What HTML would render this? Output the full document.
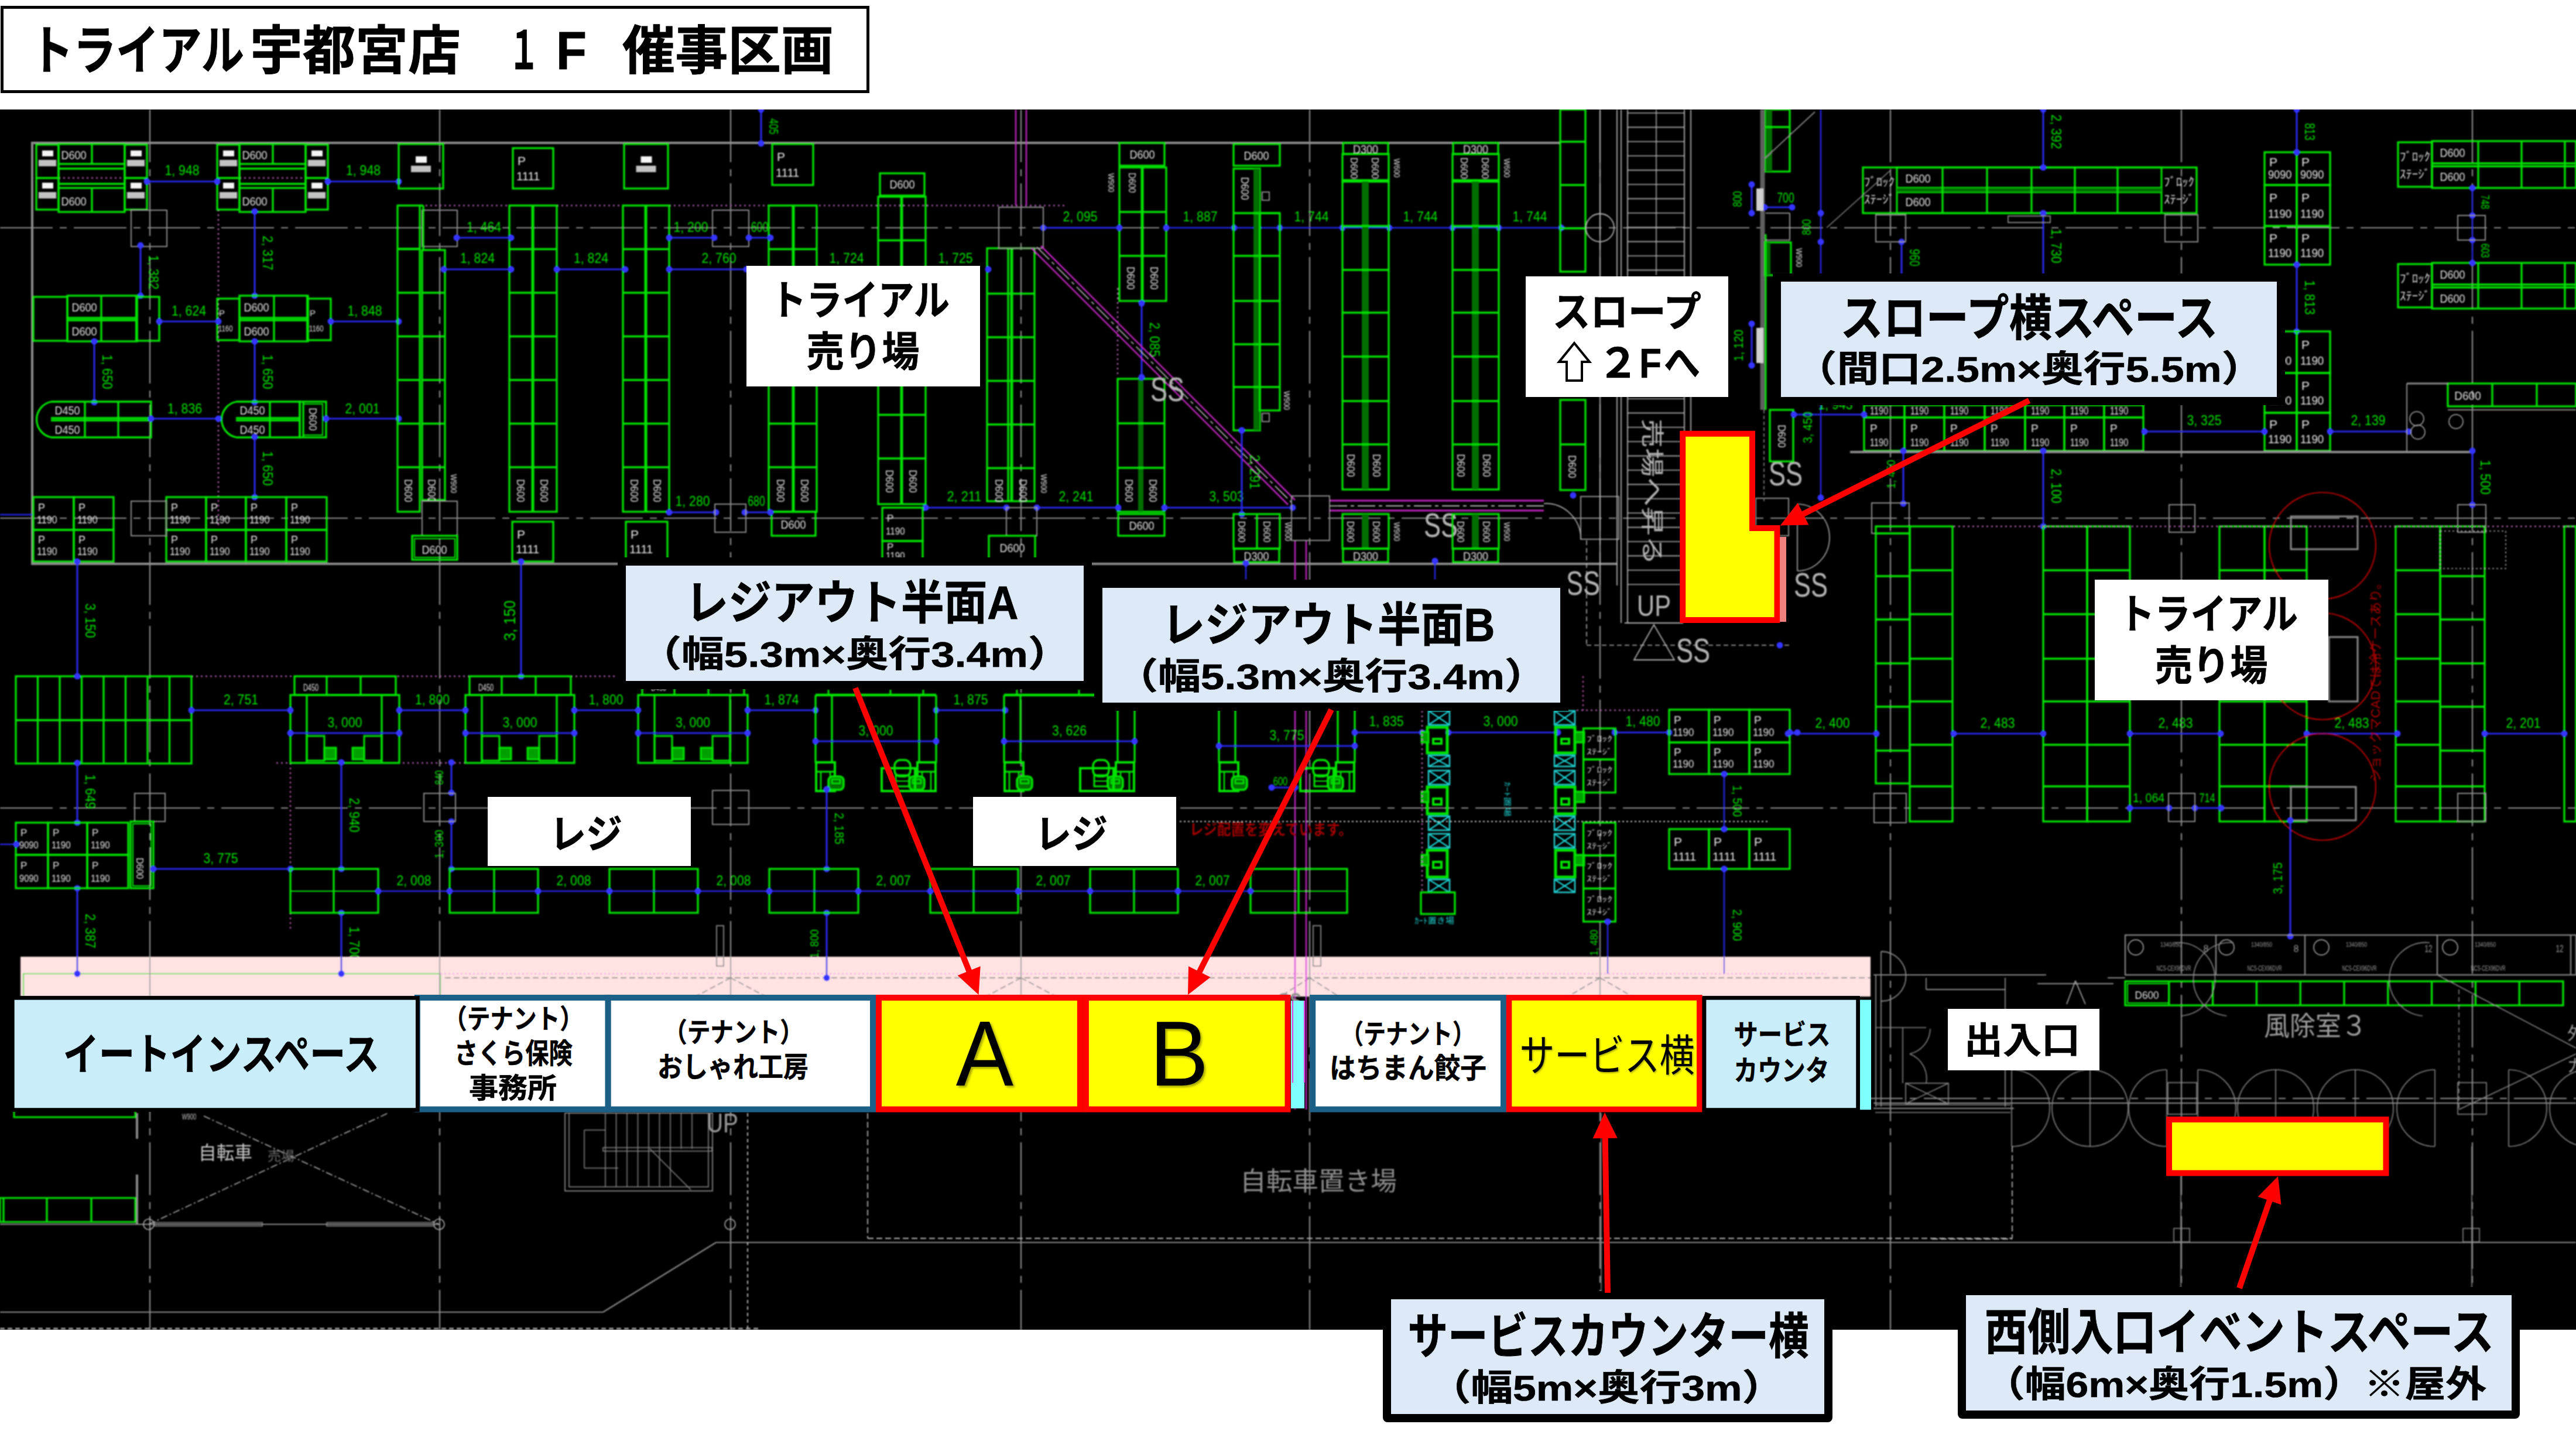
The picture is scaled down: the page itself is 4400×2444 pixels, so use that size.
<!DOCTYPE html>
<html lang="ja"><head><meta charset="utf-8"><title>トライアル宇都宮店 1F 催事区画</title>
<style>html,body{margin:0;padding:0;background:#fff}body{width:4400px;height:2444px;overflow:hidden}svg{display:block}text{font-family:"Liberation Sans","Noto Sans CJK JP",sans-serif}.cad text{font-family:"Liberation Sans","Noto Sans CJK JP",sans-serif}</style></head><body>
<svg width="4400" height="2444" viewBox="0 0 4400 2444">
<defs><filter id="bl" x="-2%" y="-2%" width="104%" height="104%"><feGaussianBlur stdDeviation="1.1"/></filter><clipPath id="cp"><rect x="0" y="187" width="4400" height="2084"/></clipPath></defs>
<rect x="0" y="0" width="4400" height="2444" fill="#fff"/>
<rect x="0" y="187" width="4400" height="2084" fill="#000"/>
<g clip-path="url(#cp)"><g class="cad" filter="url(#bl)" stroke-linecap="butt">
<line x1="256" y1="187" x2="256" y2="2271" stroke="#8c8c8c" stroke-width="2.2" stroke-dasharray="90 12 12 12"/>
<line x1="751" y1="187" x2="751" y2="2271" stroke="#8c8c8c" stroke-width="2.2" stroke-dasharray="90 12 12 12"/>
<line x1="1248" y1="187" x2="1248" y2="2271" stroke="#8c8c8c" stroke-width="2.2" stroke-dasharray="90 12 12 12"/>
<line x1="1744" y1="187" x2="1744" y2="2271" stroke="#8c8c8c" stroke-width="2.2" stroke-dasharray="90 12 12 12"/>
<line x1="2237" y1="187" x2="2237" y2="2271" stroke="#8c8c8c" stroke-width="2.2" stroke-dasharray="90 12 12 12"/>
<line x1="2733" y1="187" x2="2733" y2="2271" stroke="#8c8c8c" stroke-width="2.2" stroke-dasharray="90 12 12 12"/>
<line x1="3229" y1="187" x2="3229" y2="2271" stroke="#8c8c8c" stroke-width="2.2" stroke-dasharray="90 12 12 12"/>
<line x1="3726" y1="187" x2="3726" y2="2271" stroke="#8c8c8c" stroke-width="2.2" stroke-dasharray="90 12 12 12"/>
<line x1="4223" y1="187" x2="4223" y2="2271" stroke="#8c8c8c" stroke-width="2.2" stroke-dasharray="90 12 12 12"/>
<line x1="0" y1="389" x2="4400" y2="389" stroke="#8c8c8c" stroke-width="2.2" stroke-dasharray="90 12 12 12"/>
<line x1="0" y1="885" x2="4400" y2="885" stroke="#8c8c8c" stroke-width="2.2" stroke-dasharray="90 12 12 12"/>
<line x1="0" y1="1380" x2="4400" y2="1380" stroke="#8c8c8c" stroke-width="2.2" stroke-dasharray="90 12 12 12"/>
<line x1="3160" y1="1876" x2="4400" y2="1876" stroke="#8c8c8c" stroke-width="2" stroke-dasharray="90 12 12 12"/>
<line x1="55" y1="244" x2="2665" y2="244" stroke="#8c8c8c" stroke-width="4"/>
<line x1="55" y1="242" x2="55" y2="965" stroke="#8c8c8c" stroke-width="4"/>
<line x1="55" y1="963" x2="2762" y2="963" stroke="#8c8c8c" stroke-width="4"/>
<line x1="679" y1="351" x2="1819" y2="351" stroke="#a858a8" stroke-width="2.5" stroke-dasharray="3 5"/>
<line x1="373" y1="358" x2="373" y2="900" stroke="#a858a8" stroke-width="2.5" stroke-dasharray="3 5"/>
<line x1="100" y1="304" x2="213" y2="304" stroke="#a858a8" stroke-width="2.5" stroke-dasharray="3 5"/>
<line x1="409" y1="304" x2="522" y2="304" stroke="#a858a8" stroke-width="2.5" stroke-dasharray="3 5"/>
<line x1="327" y1="1155" x2="1055" y2="1155" stroke="#a858a8" stroke-width="2.5" stroke-dasharray="3 5"/>
<line x1="472" y1="1303" x2="795" y2="1303" stroke="#a858a8" stroke-width="2.5" stroke-dasharray="3 5"/>
<line x1="496" y1="1303" x2="496" y2="1589" stroke="#a858a8" stroke-width="2.5" stroke-dasharray="3 5"/>
<line x1="1909" y1="492" x2="1909" y2="644" stroke="#a858a8" stroke-width="2.5" stroke-dasharray="3 5"/>
<rect x="62" y="247" width="38" height="111" fill="none" stroke="#00e400" stroke-width="3.3"/>
<line x1="62" y1="304" x2="100" y2="304" stroke="#00e400" stroke-width="3.3"/>
<rect x="100" y="246" width="113" height="34" fill="none" stroke="#00e400" stroke-width="3.3"/>
<rect x="100" y="321" width="113" height="41" fill="none" stroke="#00e400" stroke-width="3.3"/>
<line x1="100" y1="288" x2="213" y2="288" stroke="#00e400" stroke-width="3.3"/>
<line x1="100" y1="314" x2="213" y2="314" stroke="#00e400" stroke-width="3.3"/>
<line x1="100" y1="280" x2="100" y2="321" stroke="#00e400" stroke-width="3.3"/>
<line x1="213" y1="280" x2="213" y2="321" stroke="#00e400" stroke-width="3.3"/>
<line x1="157" y1="246" x2="157" y2="280" stroke="#00e400" stroke-width="3.3"/>
<line x1="157" y1="321" x2="157" y2="362" stroke="#00e400" stroke-width="3.3"/>
<rect x="213" y="247" width="38" height="111" fill="none" stroke="#00e400" stroke-width="3.3"/>
<line x1="213" y1="304" x2="251" y2="304" stroke="#00e400" stroke-width="3.3"/>
<text x="126" y="272" font-size="20" fill="#e0e0e0" text-anchor="middle" textLength="43.2" lengthAdjust="spacingAndGlyphs">D600</text>
<text x="126" y="351" font-size="20" fill="#e0e0e0" text-anchor="middle" textLength="43.2" lengthAdjust="spacingAndGlyphs">D600</text>
<rect x="72" y="257" width="19" height="10" fill="#f4f4f4" stroke="none" stroke-width="0"/>
<rect x="66" y="273" width="30" height="11" fill="#e4e4e4" stroke="none" stroke-width="0" opacity=".85"/>
<rect x="72" y="312" width="19" height="10" fill="#f4f4f4" stroke="none" stroke-width="0"/>
<rect x="66" y="328" width="30" height="11" fill="#e4e4e4" stroke="none" stroke-width="0" opacity=".85"/>
<rect x="223" y="257" width="19" height="10" fill="#f4f4f4" stroke="none" stroke-width="0"/>
<rect x="217" y="273" width="30" height="11" fill="#e4e4e4" stroke="none" stroke-width="0" opacity=".85"/>
<rect x="223" y="312" width="19" height="10" fill="#f4f4f4" stroke="none" stroke-width="0"/>
<rect x="217" y="328" width="30" height="11" fill="#e4e4e4" stroke="none" stroke-width="0" opacity=".85"/>
<rect x="371" y="247" width="38" height="111" fill="none" stroke="#00e400" stroke-width="3.3"/>
<line x1="371" y1="304" x2="409" y2="304" stroke="#00e400" stroke-width="3.3"/>
<rect x="409" y="246" width="113" height="34" fill="none" stroke="#00e400" stroke-width="3.3"/>
<rect x="409" y="321" width="113" height="41" fill="none" stroke="#00e400" stroke-width="3.3"/>
<line x1="409" y1="288" x2="522" y2="288" stroke="#00e400" stroke-width="3.3"/>
<line x1="409" y1="314" x2="522" y2="314" stroke="#00e400" stroke-width="3.3"/>
<line x1="409" y1="280" x2="409" y2="321" stroke="#00e400" stroke-width="3.3"/>
<line x1="522" y1="280" x2="522" y2="321" stroke="#00e400" stroke-width="3.3"/>
<line x1="466" y1="246" x2="466" y2="280" stroke="#00e400" stroke-width="3.3"/>
<line x1="466" y1="321" x2="466" y2="362" stroke="#00e400" stroke-width="3.3"/>
<rect x="522" y="247" width="38" height="111" fill="none" stroke="#00e400" stroke-width="3.3"/>
<line x1="522" y1="304" x2="560" y2="304" stroke="#00e400" stroke-width="3.3"/>
<text x="435" y="272" font-size="20" fill="#e0e0e0" text-anchor="middle" textLength="43.2" lengthAdjust="spacingAndGlyphs">D600</text>
<text x="435" y="351" font-size="20" fill="#e0e0e0" text-anchor="middle" textLength="43.2" lengthAdjust="spacingAndGlyphs">D600</text>
<rect x="381" y="257" width="19" height="10" fill="#f4f4f4" stroke="none" stroke-width="0"/>
<rect x="375" y="273" width="30" height="11" fill="#e4e4e4" stroke="none" stroke-width="0" opacity=".85"/>
<rect x="381" y="312" width="19" height="10" fill="#f4f4f4" stroke="none" stroke-width="0"/>
<rect x="375" y="328" width="30" height="11" fill="#e4e4e4" stroke="none" stroke-width="0" opacity=".85"/>
<rect x="532" y="257" width="19" height="10" fill="#f4f4f4" stroke="none" stroke-width="0"/>
<rect x="526" y="273" width="30" height="11" fill="#e4e4e4" stroke="none" stroke-width="0" opacity=".85"/>
<rect x="532" y="312" width="19" height="10" fill="#f4f4f4" stroke="none" stroke-width="0"/>
<rect x="526" y="328" width="30" height="11" fill="#e4e4e4" stroke="none" stroke-width="0" opacity=".85"/>
<line x1="251" y1="310" x2="371" y2="310" stroke="#2626e6" stroke-width="3.2"/>
<circle cx="251" cy="310" r="5.5" fill="#3434ff"/>
<circle cx="371" cy="310" r="5.5" fill="#3434ff"/>
<text x="311" y="299" font-size="24" fill="#00e400" text-anchor="middle" textLength="59" lengthAdjust="spacingAndGlyphs">1, 948</text>
<line x1="560" y1="310" x2="681" y2="310" stroke="#2626e6" stroke-width="3.2"/>
<circle cx="560" cy="310" r="5.5" fill="#3434ff"/>
<circle cx="681" cy="310" r="5.5" fill="#3434ff"/>
<text x="620.5" y="299" font-size="24" fill="#00e400" text-anchor="middle" textLength="59" lengthAdjust="spacingAndGlyphs">1, 948</text>
<rect x="224" y="359" width="61" height="62" fill="none" stroke="#8c8c8c" stroke-width="2"/>
<rect x="721" y="359" width="60" height="62" fill="none" stroke="#8c8c8c" stroke-width="2"/>
<rect x="1217" y="359" width="62" height="62" fill="none" stroke="#8c8c8c" stroke-width="2"/>
<line x1="240" y1="419" x2="240" y2="505" stroke="#2626e6" stroke-width="3.2"/>
<circle cx="240" cy="419" r="5.5" fill="#3434ff"/>
<circle cx="240" cy="505" r="5.5" fill="#3434ff"/>
<text x="254" y="465" font-size="24" fill="#00e400" text-anchor="middle" transform="rotate(90 254 465)" textLength="59" lengthAdjust="spacingAndGlyphs">1, 382</text>
<line x1="435" y1="361" x2="435" y2="505" stroke="#2626e6" stroke-width="3.2"/>
<circle cx="435" cy="361" r="5.5" fill="#3434ff"/>
<circle cx="435" cy="505" r="5.5" fill="#3434ff"/>
<text x="449" y="432" font-size="24" fill="#00e400" text-anchor="middle" transform="rotate(90 449 432)" textLength="59" lengthAdjust="spacingAndGlyphs">2, 317</text>
<rect x="681" y="246" width="76" height="76" fill="none" stroke="#00e400" stroke-width="3.3"/>
<rect x="710" y="267" width="19" height="11" fill="#f4f4f4" stroke="none" stroke-width="0"/>
<rect x="702" y="283" width="34" height="11" fill="#e4e4e4" stroke="none" stroke-width="0" opacity=".85"/>
<rect x="1066" y="246" width="75" height="76" fill="none" stroke="#00e400" stroke-width="3.3"/>
<rect x="1094.5" y="267" width="19" height="11" fill="#f4f4f4" stroke="none" stroke-width="0"/>
<rect x="1086.5" y="283" width="34" height="11" fill="#e4e4e4" stroke="none" stroke-width="0" opacity=".85"/>
<rect x="876" y="253" width="69" height="69" fill="none" stroke="#00e400" stroke-width="3.3"/>
<text x="884" y="282" font-size="21" fill="#e8e8e8" text-anchor="start">P</text>
<text x="882" y="308.2" font-size="21" fill="#e8e8e8" text-anchor="start" textLength="40.3" lengthAdjust="spacingAndGlyphs">1111</text>
<rect x="1319" y="246" width="70" height="70" fill="none" stroke="#00e400" stroke-width="3.3"/>
<text x="1327" y="275.4" font-size="21" fill="#e8e8e8" text-anchor="start">P</text>
<text x="1325" y="302" font-size="21" fill="#e8e8e8" text-anchor="start" textLength="40.3" lengthAdjust="spacingAndGlyphs">1111</text>
<line x1="1300" y1="187" x2="1300" y2="245" stroke="#2626e6" stroke-width="3.2"/>
<circle cx="1300" cy="187" r="5.5" fill="#3434ff"/>
<circle cx="1300" cy="245" r="5.5" fill="#3434ff"/>
<text x="1314" y="216" font-size="22" fill="#00e400" text-anchor="middle" transform="rotate(90 1314 216)" textLength="27.1" lengthAdjust="spacingAndGlyphs">405</text>
<rect x="57" y="507" width="58" height="75" fill="none" stroke="#00e400" stroke-width="3.3"/>
<rect x="115" y="505" width="119" height="78" fill="none" stroke="#00e400" stroke-width="3.3"/>
<line x1="115" y1="543" x2="234" y2="543" stroke="#00e400" stroke-width="3.3"/>
<line x1="115" y1="547" x2="234" y2="547" stroke="#00e400" stroke-width="3.3"/>
<line x1="173" y1="505" x2="173" y2="583" stroke="#00e400" stroke-width="3.3"/>
<rect x="234" y="507" width="38" height="75" fill="none" stroke="#00e400" stroke-width="3.3"/>
<line x1="233" y1="505" x2="233" y2="583" stroke="#00e400" stroke-width="4"/>
<text x="144" y="532" font-size="20" fill="#e0e0e0" text-anchor="middle" textLength="43.2" lengthAdjust="spacingAndGlyphs">D600</text>
<text x="144" y="573" font-size="20" fill="#e0e0e0" text-anchor="middle" textLength="43.2" lengthAdjust="spacingAndGlyphs">D600</text>
<rect x="371" y="510" width="38" height="71" fill="none" stroke="#00e400" stroke-width="3.3"/>
<rect x="526" y="510" width="39" height="71" fill="none" stroke="#00e400" stroke-width="3.3"/>
<rect x="409" y="505" width="117" height="78" fill="none" stroke="#00e400" stroke-width="3.3"/>
<line x1="409" y1="543" x2="526" y2="543" stroke="#00e400" stroke-width="3.3"/>
<line x1="409" y1="547" x2="526" y2="547" stroke="#00e400" stroke-width="3.3"/>
<line x1="468" y1="505" x2="468" y2="583" stroke="#00e400" stroke-width="3.3"/>
<line x1="525" y1="505" x2="525" y2="583" stroke="#00e400" stroke-width="4"/>
<text x="438" y="532" font-size="20" fill="#e0e0e0" text-anchor="middle" textLength="43.2" lengthAdjust="spacingAndGlyphs">D600</text>
<text x="438" y="573" font-size="20" fill="#e0e0e0" text-anchor="middle" textLength="43.2" lengthAdjust="spacingAndGlyphs">D600</text>
<text x="374" y="540" font-size="15" fill="#e0e0e0" text-anchor="start">P</text>
<text x="373" y="566" font-size="15" fill="#e0e0e0" text-anchor="start" textLength="24.6" lengthAdjust="spacingAndGlyphs">1160</text>
<text x="529" y="540" font-size="15" fill="#e0e0e0" text-anchor="start">P</text>
<text x="528" y="566" font-size="15" fill="#e0e0e0" text-anchor="start" textLength="24.6" lengthAdjust="spacingAndGlyphs">1160</text>
<line x1="272" y1="549" x2="373" y2="549" stroke="#2626e6" stroke-width="3.2"/>
<circle cx="272" cy="549" r="5.5" fill="#3434ff"/>
<circle cx="373" cy="549" r="5.5" fill="#3434ff"/>
<text x="322.5" y="539" font-size="24" fill="#00e400" text-anchor="middle" textLength="59" lengthAdjust="spacingAndGlyphs">1, 624</text>
<line x1="565" y1="549" x2="681" y2="549" stroke="#2626e6" stroke-width="3.2"/>
<circle cx="565" cy="549" r="5.5" fill="#3434ff"/>
<circle cx="681" cy="549" r="5.5" fill="#3434ff"/>
<text x="623" y="539" font-size="24" fill="#00e400" text-anchor="middle" textLength="59" lengthAdjust="spacingAndGlyphs">1, 848</text>
<line x1="161" y1="583" x2="161" y2="687" stroke="#2626e6" stroke-width="3.2"/>
<circle cx="161" cy="583" r="5.5" fill="#3434ff"/>
<circle cx="161" cy="687" r="5.5" fill="#3434ff"/>
<text x="175" y="635" font-size="24" fill="#00e400" text-anchor="middle" transform="rotate(90 175 635)" textLength="59" lengthAdjust="spacingAndGlyphs">1, 650</text>
<line x1="435" y1="583" x2="435" y2="687" stroke="#2626e6" stroke-width="3.2"/>
<circle cx="435" cy="583" r="5.5" fill="#3434ff"/>
<circle cx="435" cy="687" r="5.5" fill="#3434ff"/>
<text x="449" y="635" font-size="24" fill="#00e400" text-anchor="middle" transform="rotate(90 449 635)" textLength="59" lengthAdjust="spacingAndGlyphs">1, 650</text>
<path d="M258,686 L88,686 A31,31 0 0 0 88,747 L258,747 Z" fill="none" stroke="#00e400" stroke-width="3.3"/>
<line x1="87" y1="714" x2="258" y2="714" stroke="#00e400" stroke-width="3.3"/>
<line x1="87" y1="718" x2="258" y2="718" stroke="#00e400" stroke-width="3.3"/>
<line x1="145" y1="686" x2="145" y2="747" stroke="#00e400" stroke-width="3.3"/>
<line x1="202" y1="686" x2="202" y2="747" stroke="#00e400" stroke-width="3.3"/>
<text x="115" y="708" font-size="20" fill="#e0e0e0" text-anchor="middle" textLength="43.2" lengthAdjust="spacingAndGlyphs">D450</text>
<text x="115" y="741" font-size="20" fill="#e0e0e0" text-anchor="middle" textLength="43.2" lengthAdjust="spacingAndGlyphs">D450</text>
<path d="M512,686 L404,686 A31,31 0 0 0 404,747 L512,747 Z" fill="none" stroke="#00e400" stroke-width="3.3"/>
<line x1="403" y1="714" x2="512" y2="714" stroke="#00e400" stroke-width="3.3"/>
<line x1="403" y1="718" x2="512" y2="718" stroke="#00e400" stroke-width="3.3"/>
<line x1="461" y1="686" x2="461" y2="747" stroke="#00e400" stroke-width="3.3"/>
<line x1="518" y1="686" x2="518" y2="747" stroke="#00e400" stroke-width="3.3"/>
<text x="431" y="708" font-size="20" fill="#e0e0e0" text-anchor="middle" textLength="43.2" lengthAdjust="spacingAndGlyphs">D450</text>
<text x="431" y="741" font-size="20" fill="#e0e0e0" text-anchor="middle" textLength="43.2" lengthAdjust="spacingAndGlyphs">D450</text>
<rect x="512" y="686" width="45" height="61" fill="none" stroke="#00e400" stroke-width="3.3"/>
<rect x="518" y="690" width="33" height="53" fill="none" stroke="#00e400" stroke-width="2"/>
<text x="528" y="716" font-size="18" fill="#e0e0e0" text-anchor="middle" transform="rotate(90 528 716)" textLength="38.9" lengthAdjust="spacingAndGlyphs">D600</text>
<line x1="258" y1="715" x2="373" y2="715" stroke="#2626e6" stroke-width="3.2"/>
<circle cx="258" cy="715" r="5.5" fill="#3434ff"/>
<circle cx="373" cy="715" r="5.5" fill="#3434ff"/>
<text x="315.5" y="706" font-size="24" fill="#00e400" text-anchor="middle" textLength="59" lengthAdjust="spacingAndGlyphs">1, 836</text>
<line x1="557" y1="715" x2="681" y2="715" stroke="#2626e6" stroke-width="3.2"/>
<circle cx="557" cy="715" r="5.5" fill="#3434ff"/>
<circle cx="681" cy="715" r="5.5" fill="#3434ff"/>
<text x="619" y="706" font-size="24" fill="#00e400" text-anchor="middle" textLength="59" lengthAdjust="spacingAndGlyphs">2, 001</text>
<line x1="435" y1="746" x2="435" y2="849" stroke="#2626e6" stroke-width="3.2"/>
<circle cx="435" cy="746" r="5.5" fill="#3434ff"/>
<circle cx="435" cy="849" r="5.5" fill="#3434ff"/>
<text x="449" y="800" font-size="24" fill="#00e400" text-anchor="middle" transform="rotate(90 449 800)" textLength="59" lengthAdjust="spacingAndGlyphs">1, 650</text>
<rect x="57" y="849" width="69" height="56" fill="none" stroke="#00e400" stroke-width="3.3"/>
<text x="65" y="872.5" font-size="18" fill="#e8e8e8" text-anchor="start">P</text>
<text x="63" y="893.8" font-size="18" fill="#e8e8e8" text-anchor="start" textLength="34.6" lengthAdjust="spacingAndGlyphs">1190</text>
<rect x="57" y="905" width="69" height="54" fill="none" stroke="#00e400" stroke-width="3.3"/>
<text x="65" y="927.7" font-size="18" fill="#e8e8e8" text-anchor="start">P</text>
<text x="63" y="948.2" font-size="18" fill="#e8e8e8" text-anchor="start" textLength="34.6" lengthAdjust="spacingAndGlyphs">1190</text>
<rect x="126" y="849" width="68" height="56" fill="none" stroke="#00e400" stroke-width="3.3"/>
<text x="134" y="872.5" font-size="18" fill="#e8e8e8" text-anchor="start">P</text>
<text x="132" y="893.8" font-size="18" fill="#e8e8e8" text-anchor="start" textLength="34.6" lengthAdjust="spacingAndGlyphs">1190</text>
<rect x="126" y="905" width="68" height="54" fill="none" stroke="#00e400" stroke-width="3.3"/>
<text x="134" y="927.7" font-size="18" fill="#e8e8e8" text-anchor="start">P</text>
<text x="132" y="948.2" font-size="18" fill="#e8e8e8" text-anchor="start" textLength="34.6" lengthAdjust="spacingAndGlyphs">1190</text>
<rect x="284" y="849" width="68" height="56" fill="none" stroke="#00e400" stroke-width="3.3"/>
<text x="292" y="872.5" font-size="18" fill="#e8e8e8" text-anchor="start">P</text>
<text x="290" y="893.8" font-size="18" fill="#e8e8e8" text-anchor="start" textLength="34.6" lengthAdjust="spacingAndGlyphs">1190</text>
<rect x="284" y="905" width="68" height="54" fill="none" stroke="#00e400" stroke-width="3.3"/>
<text x="292" y="927.7" font-size="18" fill="#e8e8e8" text-anchor="start">P</text>
<text x="290" y="948.2" font-size="18" fill="#e8e8e8" text-anchor="start" textLength="34.6" lengthAdjust="spacingAndGlyphs">1190</text>
<rect x="352" y="849" width="68" height="56" fill="none" stroke="#00e400" stroke-width="3.3"/>
<text x="360" y="872.5" font-size="18" fill="#e8e8e8" text-anchor="start">P</text>
<text x="358" y="893.8" font-size="18" fill="#e8e8e8" text-anchor="start" textLength="34.6" lengthAdjust="spacingAndGlyphs">1190</text>
<rect x="352" y="905" width="68" height="54" fill="none" stroke="#00e400" stroke-width="3.3"/>
<text x="360" y="927.7" font-size="18" fill="#e8e8e8" text-anchor="start">P</text>
<text x="358" y="948.2" font-size="18" fill="#e8e8e8" text-anchor="start" textLength="34.6" lengthAdjust="spacingAndGlyphs">1190</text>
<rect x="420" y="849" width="69" height="56" fill="none" stroke="#00e400" stroke-width="3.3"/>
<text x="428" y="872.5" font-size="18" fill="#e8e8e8" text-anchor="start">P</text>
<text x="426" y="893.8" font-size="18" fill="#e8e8e8" text-anchor="start" textLength="34.6" lengthAdjust="spacingAndGlyphs">1190</text>
<rect x="420" y="905" width="69" height="54" fill="none" stroke="#00e400" stroke-width="3.3"/>
<text x="428" y="927.7" font-size="18" fill="#e8e8e8" text-anchor="start">P</text>
<text x="426" y="948.2" font-size="18" fill="#e8e8e8" text-anchor="start" textLength="34.6" lengthAdjust="spacingAndGlyphs">1190</text>
<rect x="489" y="849" width="69" height="56" fill="none" stroke="#00e400" stroke-width="3.3"/>
<text x="497" y="872.5" font-size="18" fill="#e8e8e8" text-anchor="start">P</text>
<text x="495" y="893.8" font-size="18" fill="#e8e8e8" text-anchor="start" textLength="34.6" lengthAdjust="spacingAndGlyphs">1190</text>
<rect x="489" y="905" width="69" height="54" fill="none" stroke="#00e400" stroke-width="3.3"/>
<text x="497" y="927.7" font-size="18" fill="#e8e8e8" text-anchor="start">P</text>
<text x="495" y="948.2" font-size="18" fill="#e8e8e8" text-anchor="start" textLength="34.6" lengthAdjust="spacingAndGlyphs">1190</text>
<rect x="224" y="856" width="60" height="59" fill="none" stroke="#8c8c8c" stroke-width="2"/>
<line x1="0" y1="879" x2="55" y2="879" stroke="#2626e6" stroke-width="2.5"/>
<rect x="679" y="351" width="38" height="523" fill="none" stroke="#00e400" stroke-width="3.3"/>
<line x1="679" y1="425" x2="717" y2="425" stroke="#00e400" stroke-width="3.3"/>
<line x1="679" y1="425.5" x2="717" y2="425.5" stroke="#00e400" stroke-width="3.3"/>
<line x1="679" y1="500" x2="717" y2="500" stroke="#00e400" stroke-width="3.3"/>
<line x1="679" y1="574.5" x2="717" y2="574.5" stroke="#00e400" stroke-width="3.3"/>
<line x1="679" y1="649" x2="717" y2="649" stroke="#00e400" stroke-width="3.3"/>
<line x1="679" y1="723.5" x2="717" y2="723.5" stroke="#00e400" stroke-width="3.3"/>
<line x1="679" y1="798" x2="717" y2="798" stroke="#00e400" stroke-width="3.3"/>
<rect x="721" y="427" width="39" height="427" fill="none" stroke="#00e400" stroke-width="3.3"/>
<line x1="721" y1="500" x2="760" y2="500" stroke="#00e400" stroke-width="3.3"/>
<line x1="721" y1="574.5" x2="760" y2="574.5" stroke="#00e400" stroke-width="3.3"/>
<line x1="721" y1="649" x2="760" y2="649" stroke="#00e400" stroke-width="3.3"/>
<line x1="721" y1="723.5" x2="760" y2="723.5" stroke="#00e400" stroke-width="3.3"/>
<line x1="721" y1="798" x2="760" y2="798" stroke="#00e400" stroke-width="3.3"/>
<line x1="717" y1="351" x2="723" y2="351" stroke="#00e400" stroke-width="3.3"/>
<line x1="723" y1="351" x2="723" y2="427" stroke="#00e400" stroke-width="3.3"/>
<rect x="870" y="351" width="81" height="523" fill="none" stroke="#00e400" stroke-width="3.3"/>
<line x1="910" y1="351" x2="910" y2="874" stroke="#00e400" stroke-width="5"/>
<line x1="870" y1="425.5" x2="951" y2="425.5" stroke="#00e400" stroke-width="3.3"/>
<line x1="870" y1="500" x2="951" y2="500" stroke="#00e400" stroke-width="3.3"/>
<line x1="870" y1="574.5" x2="951" y2="574.5" stroke="#00e400" stroke-width="3.3"/>
<line x1="870" y1="649" x2="951" y2="649" stroke="#00e400" stroke-width="3.3"/>
<line x1="870" y1="723.5" x2="951" y2="723.5" stroke="#00e400" stroke-width="3.3"/>
<line x1="870" y1="798" x2="951" y2="798" stroke="#00e400" stroke-width="3.3"/>
<rect x="1064" y="351" width="79" height="523" fill="none" stroke="#00e400" stroke-width="3.3"/>
<line x1="1103" y1="351" x2="1103" y2="874" stroke="#00e400" stroke-width="5"/>
<line x1="1064" y1="425.5" x2="1143" y2="425.5" stroke="#00e400" stroke-width="3.3"/>
<line x1="1064" y1="500" x2="1143" y2="500" stroke="#00e400" stroke-width="3.3"/>
<line x1="1064" y1="574.5" x2="1143" y2="574.5" stroke="#00e400" stroke-width="3.3"/>
<line x1="1064" y1="649" x2="1143" y2="649" stroke="#00e400" stroke-width="3.3"/>
<line x1="1064" y1="723.5" x2="1143" y2="723.5" stroke="#00e400" stroke-width="3.3"/>
<line x1="1064" y1="798" x2="1143" y2="798" stroke="#00e400" stroke-width="3.3"/>
<rect x="1313" y="351" width="82" height="523" fill="none" stroke="#00e400" stroke-width="3.3"/>
<line x1="1355" y1="351" x2="1355" y2="874" stroke="#00e400" stroke-width="5"/>
<line x1="1313" y1="425.5" x2="1395" y2="425.5" stroke="#00e400" stroke-width="3.3"/>
<line x1="1313" y1="500" x2="1395" y2="500" stroke="#00e400" stroke-width="3.3"/>
<line x1="1313" y1="574.5" x2="1395" y2="574.5" stroke="#00e400" stroke-width="3.3"/>
<line x1="1313" y1="649" x2="1395" y2="649" stroke="#00e400" stroke-width="3.3"/>
<line x1="1313" y1="723.5" x2="1395" y2="723.5" stroke="#00e400" stroke-width="3.3"/>
<line x1="1313" y1="798" x2="1395" y2="798" stroke="#00e400" stroke-width="3.3"/>
<rect x="1318" y="874" width="75" height="41" fill="none" stroke="#00e400" stroke-width="3.3"/>
<text x="1355" y="903" font-size="20" fill="#e0e0e0" text-anchor="middle" textLength="43.2" lengthAdjust="spacingAndGlyphs">D600</text>
<rect x="1503" y="296" width="76" height="38" fill="none" stroke="#00e400" stroke-width="3.3"/>
<text x="1541" y="322" font-size="20" fill="#e0e0e0" text-anchor="middle" textLength="43.2" lengthAdjust="spacingAndGlyphs">D600</text>
<rect x="1500" y="336" width="81" height="525" fill="none" stroke="#00e400" stroke-width="3.3"/>
<line x1="1540" y1="336" x2="1540" y2="861" stroke="#00e400" stroke-width="5"/>
<line x1="1500" y1="410.5" x2="1581" y2="410.5" stroke="#00e400" stroke-width="3.3"/>
<line x1="1500" y1="485" x2="1581" y2="485" stroke="#00e400" stroke-width="3.3"/>
<line x1="1500" y1="559.5" x2="1581" y2="559.5" stroke="#00e400" stroke-width="3.3"/>
<line x1="1500" y1="634" x2="1581" y2="634" stroke="#00e400" stroke-width="3.3"/>
<line x1="1500" y1="708.5" x2="1581" y2="708.5" stroke="#00e400" stroke-width="3.3"/>
<line x1="1500" y1="783" x2="1581" y2="783" stroke="#00e400" stroke-width="3.3"/>
<rect x="1686" y="424" width="81" height="432" fill="none" stroke="#00e400" stroke-width="3.3"/>
<line x1="1728" y1="424" x2="1728" y2="856" stroke="#00e400" stroke-width="5"/>
<line x1="1686" y1="501.5" x2="1767" y2="501.5" stroke="#00e400" stroke-width="3.3"/>
<line x1="1686" y1="576" x2="1767" y2="576" stroke="#00e400" stroke-width="3.3"/>
<line x1="1686" y1="650.5" x2="1767" y2="650.5" stroke="#00e400" stroke-width="3.3"/>
<line x1="1686" y1="725" x2="1767" y2="725" stroke="#00e400" stroke-width="3.3"/>
<line x1="1686" y1="799.5" x2="1767" y2="799.5" stroke="#00e400" stroke-width="3.3"/>
<line x1="1722" y1="424" x2="1722" y2="856" stroke="#00e400" stroke-width="3.3"/>
<rect x="1912" y="244" width="77" height="39" fill="none" stroke="#00e400" stroke-width="3.3"/>
<text x="1951" y="271" font-size="20" fill="#e0e0e0" text-anchor="middle" textLength="43.2" lengthAdjust="spacingAndGlyphs">D600</text>
<rect x="1912" y="286" width="80" height="228" fill="none" stroke="#00e400" stroke-width="3.3"/>
<line x1="1951" y1="286" x2="1951" y2="514" stroke="#00e400" stroke-width="5"/>
<line x1="1912" y1="362" x2="1992" y2="362" stroke="#00e400" stroke-width="3.3"/>
<line x1="1912" y1="437" x2="1992" y2="437" stroke="#00e400" stroke-width="3.3"/>
<rect x="1909" y="647" width="80" height="227" fill="none" stroke="#00e400" stroke-width="3.3"/>
<rect x="1944" y="647" width="9" height="227" fill="#006e00" stroke="none" stroke-width="0"/>
<line x1="1909" y1="723" x2="1989" y2="723" stroke="#00e400" stroke-width="3.3"/>
<line x1="1909" y1="799" x2="1989" y2="799" stroke="#00e400" stroke-width="3.3"/>
<rect x="1910" y="878" width="79" height="37" fill="none" stroke="#00e400" stroke-width="3.3"/>
<text x="1950" y="905" font-size="20" fill="#e0e0e0" text-anchor="middle" textLength="43.2" lengthAdjust="spacingAndGlyphs">D600</text>
<text x="691" y="838" font-size="18" fill="#e0e0e0" text-anchor="middle" transform="rotate(90 691 838)" textLength="38.9" lengthAdjust="spacingAndGlyphs">D600</text>
<text x="731" y="838" font-size="18" fill="#e0e0e0" text-anchor="middle" transform="rotate(90 731 838)" textLength="38.9" lengthAdjust="spacingAndGlyphs">D600</text>
<text x="883" y="838" font-size="18" fill="#e0e0e0" text-anchor="middle" transform="rotate(90 883 838)" textLength="38.9" lengthAdjust="spacingAndGlyphs">D600</text>
<text x="923" y="838" font-size="18" fill="#e0e0e0" text-anchor="middle" transform="rotate(90 923 838)" textLength="38.9" lengthAdjust="spacingAndGlyphs">D600</text>
<text x="1077" y="838" font-size="18" fill="#e0e0e0" text-anchor="middle" transform="rotate(90 1077 838)" textLength="38.9" lengthAdjust="spacingAndGlyphs">D600</text>
<text x="1116" y="838" font-size="18" fill="#e0e0e0" text-anchor="middle" transform="rotate(90 1116 838)" textLength="38.9" lengthAdjust="spacingAndGlyphs">D600</text>
<text x="1327" y="838" font-size="18" fill="#e0e0e0" text-anchor="middle" transform="rotate(90 1327 838)" textLength="38.9" lengthAdjust="spacingAndGlyphs">D600</text>
<text x="1368" y="838" font-size="18" fill="#e0e0e0" text-anchor="middle" transform="rotate(90 1368 838)" textLength="38.9" lengthAdjust="spacingAndGlyphs">D600</text>
<text x="1700" y="838" font-size="18" fill="#e0e0e0" text-anchor="middle" transform="rotate(90 1700 838)" textLength="38.9" lengthAdjust="spacingAndGlyphs">D600</text>
<text x="1741" y="838" font-size="18" fill="#e0e0e0" text-anchor="middle" transform="rotate(90 1741 838)" textLength="38.9" lengthAdjust="spacingAndGlyphs">D600</text>
<text x="1922" y="838" font-size="18" fill="#e0e0e0" text-anchor="middle" transform="rotate(90 1922 838)" textLength="38.9" lengthAdjust="spacingAndGlyphs">D600</text>
<text x="1963" y="838" font-size="18" fill="#e0e0e0" text-anchor="middle" transform="rotate(90 1963 838)" textLength="38.9" lengthAdjust="spacingAndGlyphs">D600</text>
<text x="1513" y="822" font-size="18" fill="#e0e0e0" text-anchor="middle" transform="rotate(90 1513 822)" textLength="38.9" lengthAdjust="spacingAndGlyphs">D600</text>
<text x="1553" y="822" font-size="18" fill="#e0e0e0" text-anchor="middle" transform="rotate(90 1553 822)" textLength="38.9" lengthAdjust="spacingAndGlyphs">D600</text>
<text x="770" y="826" font-size="15" fill="#e0e0e0" text-anchor="middle" transform="rotate(90 770 826)" textLength="32.4" lengthAdjust="spacingAndGlyphs">W900</text>
<text x="1778" y="826" font-size="15" fill="#e0e0e0" text-anchor="middle" transform="rotate(90 1778 826)" textLength="32.4" lengthAdjust="spacingAndGlyphs">W900</text>
<text x="1925" y="475" font-size="18" fill="#e0e0e0" text-anchor="middle" transform="rotate(90 1925 475)" textLength="38.9" lengthAdjust="spacingAndGlyphs">D600</text>
<text x="1965" y="475" font-size="18" fill="#e0e0e0" text-anchor="middle" transform="rotate(90 1965 475)" textLength="38.9" lengthAdjust="spacingAndGlyphs">D600</text>
<text x="1928" y="312" font-size="16" fill="#e0e0e0" text-anchor="middle" transform="rotate(90 1928 312)" textLength="34.6" lengthAdjust="spacingAndGlyphs">D600</text>
<text x="1893" y="312" font-size="15" fill="#e0e0e0" text-anchor="middle" transform="rotate(90 1893 312)" textLength="32.4" lengthAdjust="spacingAndGlyphs">W900</text>
<line x1="780" y1="406" x2="873" y2="406" stroke="#2626e6" stroke-width="3.2"/>
<circle cx="780" cy="406" r="5.5" fill="#3434ff"/>
<circle cx="873" cy="406" r="5.5" fill="#3434ff"/>
<text x="826.5" y="396" font-size="24" fill="#00e400" text-anchor="middle" textLength="59" lengthAdjust="spacingAndGlyphs">1, 464</text>
<line x1="758" y1="460" x2="873" y2="460" stroke="#2626e6" stroke-width="3.2"/>
<circle cx="758" cy="460" r="5.5" fill="#3434ff"/>
<circle cx="873" cy="460" r="5.5" fill="#3434ff"/>
<text x="815.5" y="449" font-size="24" fill="#00e400" text-anchor="middle" textLength="59" lengthAdjust="spacingAndGlyphs">1, 824</text>
<line x1="951" y1="460" x2="1068" y2="460" stroke="#2626e6" stroke-width="3.2"/>
<circle cx="951" cy="460" r="5.5" fill="#3434ff"/>
<circle cx="1068" cy="460" r="5.5" fill="#3434ff"/>
<text x="1009.5" y="449" font-size="24" fill="#00e400" text-anchor="middle" textLength="59" lengthAdjust="spacingAndGlyphs">1, 824</text>
<line x1="1143" y1="406" x2="1220" y2="406" stroke="#2626e6" stroke-width="3.2"/>
<circle cx="1143" cy="406" r="5.5" fill="#3434ff"/>
<circle cx="1220" cy="406" r="5.5" fill="#3434ff"/>
<text x="1180" y="396" font-size="24" fill="#00e400" text-anchor="middle" textLength="59" lengthAdjust="spacingAndGlyphs">1, 200</text>
<line x1="1279" y1="406" x2="1316" y2="406" stroke="#2626e6" stroke-width="3.2"/>
<circle cx="1279" cy="406" r="5.5" fill="#3434ff"/>
<circle cx="1316" cy="406" r="5.5" fill="#3434ff"/>
<text x="1297.5" y="396" font-size="24" fill="#00e400" text-anchor="middle" textLength="29.5" lengthAdjust="spacingAndGlyphs">600</text>
<line x1="1143" y1="460" x2="1275" y2="460" stroke="#2626e6" stroke-width="3.2"/>
<circle cx="1143" cy="460" r="5.5" fill="#3434ff"/>
<circle cx="1275" cy="460" r="5.5" fill="#3434ff"/>
<text x="1228" y="449" font-size="24" fill="#00e400" text-anchor="middle" textLength="59" lengthAdjust="spacingAndGlyphs">2, 760</text>
<text x="1446" y="449" font-size="24" fill="#00e400" text-anchor="middle" textLength="59" lengthAdjust="spacingAndGlyphs">1, 724</text>
<text x="1632" y="449" font-size="24" fill="#00e400" text-anchor="middle" textLength="59" lengthAdjust="spacingAndGlyphs">1, 725</text>
<circle cx="1688" cy="460" r="5.5" fill="#3434ff"/>
<line x1="1782" y1="389" x2="1912" y2="389" stroke="#2626e6" stroke-width="3.2"/>
<circle cx="1782" cy="389" r="5.5" fill="#3434ff"/>
<circle cx="1912" cy="389" r="5.5" fill="#3434ff"/>
<text x="1845" y="378" font-size="24" fill="#00e400" text-anchor="middle" textLength="59" lengthAdjust="spacingAndGlyphs">2, 095</text>
<line x1="1992" y1="389" x2="2667" y2="389" stroke="#2626e6" stroke-width="2.5"/>
<circle cx="1992" cy="389" r="5.5" fill="#3434ff"/>
<circle cx="2108" cy="389" r="5.5" fill="#3434ff"/>
<circle cx="2186" cy="389" r="5.5" fill="#3434ff"/>
<circle cx="2293" cy="389" r="5.5" fill="#3434ff"/>
<circle cx="2373" cy="389" r="5.5" fill="#3434ff"/>
<circle cx="2481" cy="389" r="5.5" fill="#3434ff"/>
<circle cx="2560" cy="389" r="5.5" fill="#3434ff"/>
<circle cx="2667" cy="389" r="5.5" fill="#3434ff"/>
<text x="2050" y="378" font-size="24" fill="#00e400" text-anchor="middle" textLength="59" lengthAdjust="spacingAndGlyphs">1, 887</text>
<text x="2240" y="378" font-size="24" fill="#00e400" text-anchor="middle" textLength="59" lengthAdjust="spacingAndGlyphs">1, 744</text>
<text x="2426" y="378" font-size="24" fill="#00e400" text-anchor="middle" textLength="59" lengthAdjust="spacingAndGlyphs">1, 744</text>
<text x="2613" y="378" font-size="24" fill="#00e400" text-anchor="middle" textLength="59" lengthAdjust="spacingAndGlyphs">1, 744</text>
<line x1="1950" y1="518" x2="1950" y2="644" stroke="#2626e6" stroke-width="3.2"/>
<circle cx="1950" cy="518" r="5.5" fill="#3434ff"/>
<circle cx="1950" cy="644" r="5.5" fill="#3434ff"/>
<text x="1964" y="580" font-size="24" fill="#00e400" text-anchor="middle" transform="rotate(90 1964 580)" textLength="59" lengthAdjust="spacingAndGlyphs">2, 085</text>
<rect x="1706" y="354" width="76" height="70" fill="none" stroke="#8c8c8c" stroke-width="2"/>
<line x1="1143" y1="875" x2="1223" y2="875" stroke="#2626e6" stroke-width="3.2"/>
<circle cx="1143" cy="875" r="5.5" fill="#3434ff"/>
<circle cx="1223" cy="875" r="5.5" fill="#3434ff"/>
<text x="1183" y="864" font-size="24" fill="#00e400" text-anchor="middle" textLength="59" lengthAdjust="spacingAndGlyphs">1, 280</text>
<line x1="1272" y1="875" x2="1316" y2="875" stroke="#2626e6" stroke-width="3.2"/>
<circle cx="1272" cy="875" r="5.5" fill="#3434ff"/>
<circle cx="1316" cy="875" r="5.5" fill="#3434ff"/>
<text x="1292" y="864" font-size="24" fill="#00e400" text-anchor="middle" textLength="29.5" lengthAdjust="spacingAndGlyphs">680</text>
<line x1="1581" y1="867" x2="1719" y2="867" stroke="#2626e6" stroke-width="3.2"/>
<circle cx="1581" cy="867" r="5.5" fill="#3434ff"/>
<circle cx="1719" cy="867" r="5.5" fill="#3434ff"/>
<text x="1647" y="856" font-size="24" fill="#00e400" text-anchor="middle" textLength="59" lengthAdjust="spacingAndGlyphs">2, 211</text>
<line x1="1771" y1="867" x2="1910" y2="867" stroke="#2626e6" stroke-width="3.2"/>
<circle cx="1771" cy="867" r="5.5" fill="#3434ff"/>
<circle cx="1910" cy="867" r="5.5" fill="#3434ff"/>
<text x="1838" y="856" font-size="24" fill="#00e400" text-anchor="middle" textLength="59" lengthAdjust="spacingAndGlyphs">2, 241</text>
<line x1="1989" y1="867" x2="2208" y2="867" stroke="#2626e6" stroke-width="3.2"/>
<circle cx="1989" cy="867" r="5.5" fill="#3434ff"/>
<circle cx="2208" cy="867" r="5.5" fill="#3434ff"/>
<text x="2095" y="856" font-size="24" fill="#00e400" text-anchor="middle" textLength="59" lengthAdjust="spacingAndGlyphs">3, 503</text>
<rect x="1221" y="861" width="53" height="48" fill="none" stroke="#8c8c8c" stroke-width="2"/>
<rect x="1719" y="867" width="52" height="48" fill="none" stroke="#8c8c8c" stroke-width="2"/>
<rect x="721" y="856" width="60" height="59" fill="none" stroke="#8c8c8c" stroke-width="2"/>
<rect x="704" y="915" width="77" height="41" fill="none" stroke="#00e400" stroke-width="3.3"/>
<rect x="708" y="920" width="69" height="32" fill="none" stroke="#00e400" stroke-width="2"/>
<text x="742" y="946" font-size="20" fill="#e0e0e0" text-anchor="middle" textLength="43.2" lengthAdjust="spacingAndGlyphs">D600</text>
<rect x="1689" y="915" width="79" height="41" fill="none" stroke="#00e400" stroke-width="3.3"/>
<text x="1729" y="943" font-size="20" fill="#e0e0e0" text-anchor="middle" textLength="43.2" lengthAdjust="spacingAndGlyphs">D600</text>
<rect x="875" y="891" width="70" height="68" fill="none" stroke="#00e400" stroke-width="3.3"/>
<text x="883" y="919.6" font-size="21" fill="#e8e8e8" text-anchor="start">P</text>
<text x="881" y="945.4" font-size="21" fill="#e8e8e8" text-anchor="start" textLength="40.3" lengthAdjust="spacingAndGlyphs">1111</text>
<rect x="1069" y="891" width="71" height="68" fill="none" stroke="#00e400" stroke-width="3.3"/>
<text x="1077" y="919.6" font-size="21" fill="#e8e8e8" text-anchor="start">P</text>
<text x="1075" y="945.4" font-size="21" fill="#e8e8e8" text-anchor="start" textLength="40.3" lengthAdjust="spacingAndGlyphs">1111</text>
<rect x="1507" y="867" width="69" height="57" fill="none" stroke="#00e400" stroke-width="3.3"/>
<text x="1515" y="890.9" font-size="17" fill="#e8e8e8" text-anchor="start">P</text>
<text x="1513" y="912.6" font-size="17" fill="#e8e8e8" text-anchor="start" textLength="32.6" lengthAdjust="spacingAndGlyphs">1190</text>
<rect x="1507" y="924" width="69" height="39" fill="none" stroke="#00e400" stroke-width="3.3"/>
<text x="1515" y="940.4" font-size="17" fill="#e8e8e8" text-anchor="start">P</text>
<text x="1513" y="955.2" font-size="17" fill="#e8e8e8" text-anchor="start" textLength="32.6" lengthAdjust="spacingAndGlyphs">1190</text>
<line x1="1735" y1="187" x2="1735" y2="351" stroke="#c020c0" stroke-width="2.5"/>
<line x1="1753" y1="187" x2="1753" y2="351" stroke="#c020c0" stroke-width="2.5"/>
<line x1="1762" y1="424" x2="2200" y2="862" stroke="#c020c0" stroke-width="2.5"/>
<line x1="1778" y1="420" x2="2212" y2="854" stroke="#c020c0" stroke-width="2.5"/>
<line x1="1771" y1="422" x2="2206" y2="858" stroke="#b4b4b4" stroke-width="1.8" stroke-dasharray="30 6 6 6"/>
<line x1="2271" y1="855" x2="2637" y2="855" stroke="#c020c0" stroke-width="3"/>
<line x1="2271" y1="872" x2="2637" y2="872" stroke="#c020c0" stroke-width="3"/>
<line x1="2271" y1="864" x2="2637" y2="864" stroke="#b4b4b4" stroke-width="1.8" stroke-dasharray="30 6 6 6"/>
<line x1="2212" y1="923" x2="2212" y2="1895" stroke="#c020c0" stroke-width="2.5"/>
<line x1="2231" y1="923" x2="2231" y2="1895" stroke="#c020c0" stroke-width="2.5"/>
<rect x="2206" y="847" width="65" height="76" fill="none" stroke="#8c8c8c" stroke-width="2"/>
<rect x="2700" y="848" width="65" height="73" fill="none" stroke="#8c8c8c" stroke-width="2"/>
<text x="1994" y="685" font-size="57" fill="#b4b4b4" text-anchor="middle" textLength="58" lengthAdjust="spacingAndGlyphs">SS</text>
<text x="2461" y="917" font-size="57" fill="#b4b4b4" text-anchor="middle" textLength="58" lengthAdjust="spacingAndGlyphs">SS</text>
<text x="2704" y="1016" font-size="57" fill="#b4b4b4" text-anchor="middle" textLength="58" lengthAdjust="spacingAndGlyphs">SS</text>
<text x="2892" y="1131" font-size="57" fill="#b4b4b4" text-anchor="middle" textLength="58" lengthAdjust="spacingAndGlyphs">SS</text>
<text x="3050" y="829" font-size="57" fill="#b4b4b4" text-anchor="middle" textLength="58" lengthAdjust="spacingAndGlyphs">SS</text>
<text x="3093" y="1019" font-size="57" fill="#b4b4b4" text-anchor="middle" textLength="58" lengthAdjust="spacingAndGlyphs">SS</text>
<line x1="2121" y1="735" x2="2121" y2="878" stroke="#2626e6" stroke-width="3.2"/>
<circle cx="2121" cy="735" r="5.5" fill="#3434ff"/>
<circle cx="2121" cy="878" r="5.5" fill="#3434ff"/>
<text x="2135" y="806" font-size="24" fill="#00e400" text-anchor="middle" transform="rotate(90 2135 806)" textLength="59" lengthAdjust="spacingAndGlyphs">2, 291</text>
<rect x="2107" y="246" width="79" height="37" fill="none" stroke="#00e400" stroke-width="3.3"/>
<text x="2146" y="273" font-size="20" fill="#e0e0e0" text-anchor="middle" textLength="43.2" lengthAdjust="spacingAndGlyphs">D600</text>
<rect x="2107" y="288" width="45" height="447" fill="none" stroke="#00e400" stroke-width="3.3"/>
<rect x="2141" y="288" width="11" height="447" fill="#006e00" stroke="none" stroke-width="0"/>
<rect x="2152" y="364" width="34" height="337" fill="none" stroke="#00e400" stroke-width="3.3"/>
<line x1="2107" y1="364" x2="2186" y2="364" stroke="#00e400" stroke-width="3.3"/>
<line x1="2107" y1="437" x2="2186" y2="437" stroke="#00e400" stroke-width="3.3"/>
<line x1="2107" y1="514" x2="2186" y2="514" stroke="#00e400" stroke-width="3.3"/>
<line x1="2107" y1="588" x2="2186" y2="588" stroke="#00e400" stroke-width="3.3"/>
<line x1="2107" y1="661" x2="2186" y2="661" stroke="#00e400" stroke-width="3.3"/>
<text x="2120" y="322" font-size="18" fill="#e0e0e0" text-anchor="middle" transform="rotate(90 2120 322)" textLength="38.9" lengthAdjust="spacingAndGlyphs">D600</text>
<text x="2193" y="684" font-size="15" fill="#e0e0e0" text-anchor="middle" transform="rotate(90 2193 684)" textLength="32.4" lengthAdjust="spacingAndGlyphs">W900</text>
<rect x="2156" y="328" width="12" height="14" fill="none" stroke="#b4b4b4" stroke-width="1.5"/>
<rect x="2156" y="706" width="12" height="14" fill="none" stroke="#b4b4b4" stroke-width="1.5"/>
<circle cx="2121" cy="735" r="5.5" fill="#3434ff"/>
<rect x="2294" y="244" width="77" height="19" fill="none" stroke="#00e400" stroke-width="3.3"/>
<text x="2332.5" y="262" font-size="20" fill="#e0e0e0" text-anchor="middle" textLength="43.2" lengthAdjust="spacingAndGlyphs">D300</text>
<rect x="2293" y="263" width="79" height="47" fill="none" stroke="#00e400" stroke-width="3.3"/>
<line x1="2293" y1="308" x2="2372" y2="308" stroke="#00e400" stroke-width="4"/>
<text x="2307" y="287" font-size="17" fill="#e0e0e0" text-anchor="middle" transform="rotate(90 2307 287)" textLength="36.7" lengthAdjust="spacingAndGlyphs">D600</text>
<text x="2343" y="287" font-size="17" fill="#e0e0e0" text-anchor="middle" transform="rotate(90 2343 287)" textLength="36.7" lengthAdjust="spacingAndGlyphs">D600</text>
<text x="2381" y="287" font-size="15" fill="#e0e0e0" text-anchor="middle" transform="rotate(90 2381 287)" textLength="32.4" lengthAdjust="spacingAndGlyphs">W600</text>
<rect x="2293" y="310" width="79" height="526" fill="none" stroke="#00e400" stroke-width="3.3"/>
<rect x="2326" y="310" width="12" height="526" fill="#006e00" stroke="none" stroke-width="0"/>
<line x1="2293" y1="386" x2="2372" y2="386" stroke="#00e400" stroke-width="3.3"/>
<line x1="2293" y1="461" x2="2372" y2="461" stroke="#00e400" stroke-width="3.3"/>
<line x1="2293" y1="534" x2="2372" y2="534" stroke="#00e400" stroke-width="3.3"/>
<line x1="2293" y1="609" x2="2372" y2="609" stroke="#00e400" stroke-width="3.3"/>
<line x1="2293" y1="685" x2="2372" y2="685" stroke="#00e400" stroke-width="3.3"/>
<line x1="2293" y1="759" x2="2372" y2="759" stroke="#00e400" stroke-width="3.3"/>
<text x="2301" y="795" font-size="18" fill="#e0e0e0" text-anchor="middle" transform="rotate(90 2301 795)" textLength="38.9" lengthAdjust="spacingAndGlyphs">D600</text>
<text x="2345" y="795" font-size="18" fill="#e0e0e0" text-anchor="middle" transform="rotate(90 2345 795)" textLength="38.9" lengthAdjust="spacingAndGlyphs">D600</text>
<rect x="2293" y="878" width="79" height="59" fill="none" stroke="#00e400" stroke-width="3.3"/>
<rect x="2326" y="878" width="12" height="59" fill="#006e00" stroke="none" stroke-width="0"/>
<text x="2301" y="908" font-size="17" fill="#e0e0e0" text-anchor="middle" transform="rotate(90 2301 908)" textLength="36.7" lengthAdjust="spacingAndGlyphs">D600</text>
<text x="2345" y="908" font-size="17" fill="#e0e0e0" text-anchor="middle" transform="rotate(90 2345 908)" textLength="36.7" lengthAdjust="spacingAndGlyphs">D600</text>
<text x="2381" y="908" font-size="15" fill="#e0e0e0" text-anchor="middle" transform="rotate(90 2381 908)" textLength="32.4" lengthAdjust="spacingAndGlyphs">W900</text>
<rect x="2294" y="937" width="77" height="23" fill="none" stroke="#00e400" stroke-width="3.3"/>
<text x="2332.5" y="957" font-size="20" fill="#e0e0e0" text-anchor="middle" textLength="43.2" lengthAdjust="spacingAndGlyphs">D300</text>
<rect x="2482" y="244" width="77" height="19" fill="none" stroke="#00e400" stroke-width="3.3"/>
<text x="2520.5" y="262" font-size="20" fill="#e0e0e0" text-anchor="middle" textLength="43.2" lengthAdjust="spacingAndGlyphs">D300</text>
<rect x="2481" y="263" width="79" height="47" fill="none" stroke="#00e400" stroke-width="3.3"/>
<line x1="2481" y1="308" x2="2560" y2="308" stroke="#00e400" stroke-width="4"/>
<text x="2495" y="287" font-size="17" fill="#e0e0e0" text-anchor="middle" transform="rotate(90 2495 287)" textLength="36.7" lengthAdjust="spacingAndGlyphs">D600</text>
<text x="2531" y="287" font-size="17" fill="#e0e0e0" text-anchor="middle" transform="rotate(90 2531 287)" textLength="36.7" lengthAdjust="spacingAndGlyphs">D600</text>
<text x="2569" y="287" font-size="15" fill="#e0e0e0" text-anchor="middle" transform="rotate(90 2569 287)" textLength="32.4" lengthAdjust="spacingAndGlyphs">W600</text>
<rect x="2481" y="310" width="79" height="526" fill="none" stroke="#00e400" stroke-width="3.3"/>
<rect x="2514" y="310" width="12" height="526" fill="#006e00" stroke="none" stroke-width="0"/>
<line x1="2481" y1="386" x2="2560" y2="386" stroke="#00e400" stroke-width="3.3"/>
<line x1="2481" y1="461" x2="2560" y2="461" stroke="#00e400" stroke-width="3.3"/>
<line x1="2481" y1="534" x2="2560" y2="534" stroke="#00e400" stroke-width="3.3"/>
<line x1="2481" y1="609" x2="2560" y2="609" stroke="#00e400" stroke-width="3.3"/>
<line x1="2481" y1="685" x2="2560" y2="685" stroke="#00e400" stroke-width="3.3"/>
<line x1="2481" y1="759" x2="2560" y2="759" stroke="#00e400" stroke-width="3.3"/>
<text x="2489" y="795" font-size="18" fill="#e0e0e0" text-anchor="middle" transform="rotate(90 2489 795)" textLength="38.9" lengthAdjust="spacingAndGlyphs">D600</text>
<text x="2533" y="795" font-size="18" fill="#e0e0e0" text-anchor="middle" transform="rotate(90 2533 795)" textLength="38.9" lengthAdjust="spacingAndGlyphs">D600</text>
<rect x="2481" y="878" width="79" height="59" fill="none" stroke="#00e400" stroke-width="3.3"/>
<rect x="2514" y="878" width="12" height="59" fill="#006e00" stroke="none" stroke-width="0"/>
<text x="2489" y="908" font-size="17" fill="#e0e0e0" text-anchor="middle" transform="rotate(90 2489 908)" textLength="36.7" lengthAdjust="spacingAndGlyphs">D600</text>
<text x="2533" y="908" font-size="17" fill="#e0e0e0" text-anchor="middle" transform="rotate(90 2533 908)" textLength="36.7" lengthAdjust="spacingAndGlyphs">D600</text>
<text x="2569" y="908" font-size="15" fill="#e0e0e0" text-anchor="middle" transform="rotate(90 2569 908)" textLength="32.4" lengthAdjust="spacingAndGlyphs">W900</text>
<rect x="2482" y="937" width="77" height="23" fill="none" stroke="#00e400" stroke-width="3.3"/>
<text x="2520.5" y="957" font-size="20" fill="#e0e0e0" text-anchor="middle" textLength="43.2" lengthAdjust="spacingAndGlyphs">D300</text>
<rect x="2107" y="878" width="79" height="59" fill="none" stroke="#00e400" stroke-width="3.3"/>
<line x1="2147" y1="878" x2="2147" y2="937" stroke="#00e400" stroke-width="3.3"/>
<text x="2115" y="908" font-size="17" fill="#e0e0e0" text-anchor="middle" transform="rotate(90 2115 908)" textLength="36.7" lengthAdjust="spacingAndGlyphs">D600</text>
<text x="2158" y="908" font-size="17" fill="#e0e0e0" text-anchor="middle" transform="rotate(90 2158 908)" textLength="36.7" lengthAdjust="spacingAndGlyphs">D600</text>
<text x="2195" y="908" font-size="15" fill="#e0e0e0" text-anchor="middle" transform="rotate(90 2195 908)" textLength="32.4" lengthAdjust="spacingAndGlyphs">W900</text>
<rect x="2108" y="937" width="77" height="23" fill="none" stroke="#00e400" stroke-width="3.3"/>
<text x="2146" y="957" font-size="20" fill="#e0e0e0" text-anchor="middle" textLength="43.2" lengthAdjust="spacingAndGlyphs">D300</text>
<line x1="2128" y1="960" x2="2128" y2="990" stroke="#2626e6" stroke-width="2.5"/>
<circle cx="2128" cy="962" r="5.5" fill="#3434ff"/>
<line x1="2451" y1="958" x2="2451" y2="990" stroke="#2626e6" stroke-width="2.5"/>
<circle cx="2451" cy="958" r="5.5" fill="#3434ff"/>
<rect x="2665" y="187" width="43" height="277" fill="none" stroke="#00e400" stroke-width="3.3"/>
<line x1="2665" y1="242" x2="2708" y2="242" stroke="#00e400" stroke-width="3.3"/>
<line x1="2665" y1="316" x2="2708" y2="316" stroke="#00e400" stroke-width="3.3"/>
<line x1="2665" y1="390" x2="2708" y2="390" stroke="#00e400" stroke-width="3.3"/>
<rect x="2665" y="683" width="43" height="154" fill="none" stroke="#00e400" stroke-width="3.3"/>
<line x1="2665" y1="759" x2="2708" y2="759" stroke="#00e400" stroke-width="3.3"/>
<text x="2679" y="797" font-size="18" fill="#e0e0e0" text-anchor="middle" transform="rotate(90 2679 797)" textLength="38.9" lengthAdjust="spacingAndGlyphs">D600</text>
<circle cx="2687" cy="846" r="5.5" fill="#3434ff"/>
<line x1="2733" y1="187" x2="2733" y2="1000" stroke="#b4b4b4" stroke-width="1.8"/>
<line x1="2762" y1="187" x2="2762" y2="1000" stroke="#b4b4b4" stroke-width="1.8"/>
<line x1="2769" y1="187" x2="2769" y2="1064" stroke="#b4b4b4" stroke-width="1.8"/>
<line x1="2780" y1="187" x2="2780" y2="1064" stroke="#b4b4b4" stroke-width="1.8"/>
<line x1="2877" y1="187" x2="2877" y2="1000" stroke="#b4b4b4" stroke-width="1.8"/>
<line x1="2888" y1="187" x2="2888" y2="1000" stroke="#b4b4b4" stroke-width="1.8"/>
<line x1="2829" y1="187" x2="2829" y2="470" stroke="#b4b4b4" stroke-width="1.5"/>
<line x1="2780" y1="193" x2="2877" y2="193" stroke="#b4b4b4" stroke-width="1.6"/>
<line x1="2780" y1="217.4" x2="2877" y2="217.4" stroke="#b4b4b4" stroke-width="1.6"/>
<line x1="2780" y1="241.8" x2="2877" y2="241.8" stroke="#b4b4b4" stroke-width="1.6"/>
<line x1="2780" y1="266.2" x2="2877" y2="266.2" stroke="#b4b4b4" stroke-width="1.6"/>
<line x1="2780" y1="290.6" x2="2877" y2="290.6" stroke="#b4b4b4" stroke-width="1.6"/>
<line x1="2780" y1="315" x2="2877" y2="315" stroke="#b4b4b4" stroke-width="1.6"/>
<line x1="2780" y1="339.4" x2="2877" y2="339.4" stroke="#b4b4b4" stroke-width="1.6"/>
<line x1="2780" y1="363.8" x2="2877" y2="363.8" stroke="#b4b4b4" stroke-width="1.6"/>
<line x1="2780" y1="388.2" x2="2877" y2="388.2" stroke="#b4b4b4" stroke-width="1.6"/>
<line x1="2780" y1="412.6" x2="2877" y2="412.6" stroke="#b4b4b4" stroke-width="1.6"/>
<line x1="2780" y1="437" x2="2877" y2="437" stroke="#b4b4b4" stroke-width="1.6"/>
<line x1="2780" y1="461.4" x2="2877" y2="461.4" stroke="#b4b4b4" stroke-width="1.6"/>
<line x1="2780" y1="485.8" x2="2877" y2="485.8" stroke="#b4b4b4" stroke-width="1.6"/>
<line x1="2780" y1="510.2" x2="2877" y2="510.2" stroke="#b4b4b4" stroke-width="1.6"/>
<line x1="2780" y1="534.6" x2="2877" y2="534.6" stroke="#b4b4b4" stroke-width="1.6"/>
<line x1="2780" y1="559" x2="2877" y2="559" stroke="#b4b4b4" stroke-width="1.6"/>
<line x1="2780" y1="583.4" x2="2877" y2="583.4" stroke="#b4b4b4" stroke-width="1.6"/>
<line x1="2780" y1="607.8" x2="2877" y2="607.8" stroke="#b4b4b4" stroke-width="1.6"/>
<line x1="2780" y1="632.2" x2="2877" y2="632.2" stroke="#b4b4b4" stroke-width="1.6"/>
<line x1="2780" y1="656.6" x2="2877" y2="656.6" stroke="#b4b4b4" stroke-width="1.6"/>
<line x1="2780" y1="681" x2="2877" y2="681" stroke="#b4b4b4" stroke-width="1.6"/>
<line x1="2780" y1="705.4" x2="2877" y2="705.4" stroke="#b4b4b4" stroke-width="1.6"/>
<line x1="2780" y1="729.8" x2="2877" y2="729.8" stroke="#b4b4b4" stroke-width="1.6"/>
<line x1="2780" y1="754.2" x2="2877" y2="754.2" stroke="#b4b4b4" stroke-width="1.6"/>
<line x1="2780" y1="778.6" x2="2877" y2="778.6" stroke="#b4b4b4" stroke-width="1.6"/>
<line x1="2780" y1="803" x2="2877" y2="803" stroke="#b4b4b4" stroke-width="1.6"/>
<line x1="2780" y1="827.4" x2="2877" y2="827.4" stroke="#b4b4b4" stroke-width="1.6"/>
<line x1="2780" y1="851.8" x2="2877" y2="851.8" stroke="#b4b4b4" stroke-width="1.6"/>
<line x1="2780" y1="876.2" x2="2877" y2="876.2" stroke="#b4b4b4" stroke-width="1.6"/>
<line x1="2780" y1="900.6" x2="2877" y2="900.6" stroke="#b4b4b4" stroke-width="1.6"/>
<line x1="2780" y1="925" x2="2877" y2="925" stroke="#b4b4b4" stroke-width="1.6"/>
<line x1="2780" y1="949.4" x2="2877" y2="949.4" stroke="#b4b4b4" stroke-width="1.6"/>
<line x1="2780" y1="973.8" x2="2877" y2="973.8" stroke="#b4b4b4" stroke-width="1.6"/>
<line x1="2780" y1="998.2" x2="2877" y2="998.2" stroke="#b4b4b4" stroke-width="1.6"/>
<line x1="2775" y1="1064" x2="2875" y2="1064" stroke="#b4b4b4" stroke-width="1.8"/>
<circle cx="2733" cy="389" r="24" fill="none" stroke="#b4b4b4" stroke-width="1.8"/>
<text x="2808" y="840" font-size="40" fill="#b4b4b4" text-anchor="middle" transform="rotate(90 2808 840)" textLength="250" lengthAdjust="spacingAndGlyphs">売場へ昇る</text>
<text x="2825" y="1052" font-size="50" fill="#b4b4b4" text-anchor="middle" textLength="58" lengthAdjust="spacingAndGlyphs">UP</text>
<path d="M2825,1067 L2791,1127 L2860,1127 Z" fill="none" stroke="#b4b4b4" stroke-width="1.8"/>
<line x1="2710" y1="1102" x2="3057" y2="1102" stroke="#b4b4b4" stroke-width="1.6" stroke-dasharray="8 5"/>
<circle cx="3040" cy="1102" r="5.5" fill="#3434ff"/>
<line x1="2710" y1="923" x2="2710" y2="1102" stroke="#b4b4b4" stroke-width="1.6" stroke-dasharray="8 5"/>
<path d="M2637,860 A60,60 0 0 1 2700,921" fill="none" stroke="#b4b4b4" stroke-width="1.6"/>
<path d="M3070,861 A55,57 0 0 1 3070,975" fill="none" stroke="#b4b4b4" stroke-width="1.6"/>
<line x1="3070" y1="861" x2="3070" y2="975" stroke="#b4b4b4" stroke-width="1.6"/>
<rect x="2999" y="851" width="56" height="64" fill="none" stroke="#8c8c8c" stroke-width="2"/>
<line x1="3010.5" y1="187" x2="3010.5" y2="700" stroke="#5e5e5e" stroke-width="8"/>
<line x1="3013" y1="700" x2="3013" y2="860" stroke="#707070" stroke-width="2" stroke-dasharray="6 4"/>
<rect x="3015" y="414" width="44" height="56" fill="none" stroke="#00e400" stroke-width="3.3"/>
<rect x="3015" y="414" width="9" height="56" fill="#006e00" stroke="none" stroke-width="0"/>
<rect x="3015" y="187" width="9" height="106" fill="#006e00" stroke="none" stroke-width="0"/>
<rect x="3016" y="187" width="41" height="106" fill="none" stroke="#00e400" stroke-width="3.3"/>
<rect x="3016" y="187" width="11" height="106" fill="#006e00" stroke="none" stroke-width="0"/>
<line x1="3016" y1="217" x2="3057" y2="217" stroke="#00e400" stroke-width="3.3"/>
<line x1="3100" y1="191" x2="3014" y2="271" stroke="#8c8c8c" stroke-width="1.8"/>
<line x1="3016" y1="400" x2="3016" y2="700" stroke="#00e400" stroke-width="3"/>
<rect x="3023" y="700" width="40" height="88" fill="none" stroke="#00e400" stroke-width="3.3"/>
<text x="3037" y="745" font-size="18" fill="#e0e0e0" text-anchor="middle" transform="rotate(90 3037 745)" textLength="38.9" lengthAdjust="spacingAndGlyphs">D600</text>
<line x1="3016" y1="364" x2="3057" y2="364" stroke="#b4b4b4" stroke-width="1.6"/>
<line x1="3057" y1="364" x2="3057" y2="410" stroke="#b4b4b4" stroke-width="1.6"/>
<line x1="3016" y1="410" x2="3057" y2="410" stroke="#b4b4b4" stroke-width="1.6"/>
<text x="3068" y="440" font-size="15" fill="#e0e0e0" text-anchor="middle" transform="rotate(90 3068 440)" textLength="32.4" lengthAdjust="spacingAndGlyphs">W900</text>
<line x1="2992" y1="315" x2="2992" y2="364" stroke="#2626e6" stroke-width="3.2"/>
<circle cx="2992" cy="315" r="5.5" fill="#3434ff"/>
<circle cx="2992" cy="364" r="5.5" fill="#3434ff"/>
<text x="2975" y="340" font-size="22" fill="#00e400" text-anchor="middle" transform="rotate(-90 2975 340)" textLength="27.1" lengthAdjust="spacingAndGlyphs">800</text>
<line x1="3014" y1="354" x2="3061" y2="354" stroke="#2626e6" stroke-width="3.2"/>
<circle cx="3014" cy="354" r="5.5" fill="#3434ff"/>
<circle cx="3061" cy="354" r="5.5" fill="#3434ff"/>
<text x="3050" y="346" font-size="24" fill="#00e400" text-anchor="middle" textLength="29.5" lengthAdjust="spacingAndGlyphs">700</text>
<line x1="2992" y1="553" x2="2992" y2="624" stroke="#2626e6" stroke-width="3.2"/>
<circle cx="2992" cy="553" r="5.5" fill="#3434ff"/>
<circle cx="2992" cy="624" r="5.5" fill="#3434ff"/>
<text x="2977" y="590" font-size="22" fill="#00e400" text-anchor="middle" transform="rotate(-90 2977 590)" textLength="54.1" lengthAdjust="spacingAndGlyphs">1, 120</text>
<rect x="3000" y="322" width="12" height="38" fill="#d0d0d0" stroke="none" stroke-width="0"/>
<rect x="3000" y="560" width="12" height="60" fill="#d0d0d0" stroke="none" stroke-width="0"/>
<rect x="3182" y="286" width="570" height="78" fill="none" stroke="#00e400" stroke-width="3.3"/>
<rect x="3240" y="286" width="452" height="78" fill="none" stroke="#00e400" stroke-width="3"/>
<line x1="3240" y1="321" x2="3692" y2="321" stroke="#00e400" stroke-width="3.3"/>
<line x1="3240" y1="328" x2="3692" y2="328" stroke="#00e400" stroke-width="3.3"/>
<rect x="3240" y="321" width="452" height="7" fill="#006e00" stroke="none" stroke-width="0"/>
<line x1="3318" y1="286" x2="3318" y2="364" stroke="#00e400" stroke-width="3.3"/>
<line x1="3394" y1="286" x2="3394" y2="364" stroke="#00e400" stroke-width="3.3"/>
<line x1="3470" y1="286" x2="3470" y2="364" stroke="#00e400" stroke-width="3.3"/>
<line x1="3544" y1="286" x2="3544" y2="364" stroke="#00e400" stroke-width="3.3"/>
<line x1="3617" y1="286" x2="3617" y2="364" stroke="#00e400" stroke-width="3.3"/>
<text x="3276" y="312" font-size="20" fill="#e0e0e0" text-anchor="middle" textLength="43.2" lengthAdjust="spacingAndGlyphs">D600</text>
<text x="3276" y="352" font-size="20" fill="#e0e0e0" text-anchor="middle" textLength="43.2" lengthAdjust="spacingAndGlyphs">D600</text>
<text x="3210" y="318" font-size="20" fill="#e0e0e0" text-anchor="middle" textLength="52" lengthAdjust="spacingAndGlyphs">ﾌﾞﾛｯｸ</text>
<text x="3210" y="348" font-size="20" fill="#e0e0e0" text-anchor="middle" textLength="52" lengthAdjust="spacingAndGlyphs">ｽﾃｰｼﾞ</text>
<text x="3722" y="318" font-size="20" fill="#e0e0e0" text-anchor="middle" textLength="52" lengthAdjust="spacingAndGlyphs">ﾌﾞﾛｯｸ</text>
<text x="3722" y="348" font-size="20" fill="#e0e0e0" text-anchor="middle" textLength="52" lengthAdjust="spacingAndGlyphs">ｽﾃｰｼﾞ</text>
<line x1="3490" y1="187" x2="3490" y2="286" stroke="#2626e6" stroke-width="3.2"/>
<circle cx="3490" cy="187" r="5.5" fill="#3434ff"/>
<circle cx="3490" cy="286" r="5.5" fill="#3434ff"/>
<text x="3504" y="225" font-size="24" fill="#00e400" text-anchor="middle" transform="rotate(90 3504 225)" textLength="59" lengthAdjust="spacingAndGlyphs">2, 392</text>
<line x1="3490" y1="364" x2="3490" y2="480" stroke="#2626e6" stroke-width="3.2"/>
<circle cx="3490" cy="364" r="5.5" fill="#3434ff"/>
<circle cx="3490" cy="480" r="5.5" fill="#3434ff"/>
<text x="3504" y="420" font-size="24" fill="#00e400" text-anchor="middle" transform="rotate(90 3504 420)" textLength="59" lengthAdjust="spacingAndGlyphs">1, 730</text>
<line x1="3110" y1="187" x2="3110" y2="850" stroke="#2626e6" stroke-width="2.5"/>
<circle cx="3110" cy="364" r="5.5" fill="#3434ff"/>
<circle cx="3110" cy="413" r="5.5" fill="#3434ff"/>
<circle cx="3110" cy="850" r="5.5" fill="#3434ff"/>
<text x="3093" y="388" font-size="22" fill="#00e400" text-anchor="middle" transform="rotate(-90 3093 388)" textLength="27.1" lengthAdjust="spacingAndGlyphs">800</text>
<line x1="3248" y1="413" x2="3248" y2="480" stroke="#2626e6" stroke-width="3.2"/>
<circle cx="3248" cy="413" r="5.5" fill="#3434ff"/>
<circle cx="3248" cy="480" r="5.5" fill="#3434ff"/>
<text x="3262" y="440" font-size="24" fill="#00e400" text-anchor="middle" transform="rotate(90 3262 440)" textLength="29.5" lengthAdjust="spacingAndGlyphs">960</text>
<rect x="3204" y="367" width="51" height="46" fill="none" stroke="#8c8c8c" stroke-width="2"/>
<rect x="3698" y="367" width="56" height="46" fill="none" stroke="#8c8c8c" stroke-width="2"/>
<rect x="3430" y="369" width="72" height="11" fill="none" stroke="#8c8c8c" stroke-width="1.8"/>
<line x1="3120" y1="389" x2="3230" y2="290" stroke="#8c8c8c" stroke-width="1.6"/>
<rect x="3868" y="260" width="55" height="56" fill="none" stroke="#00e400" stroke-width="3.3"/>
<text x="3876" y="283.5" font-size="21" fill="#e8e8e8" text-anchor="start">P</text>
<text x="3874" y="304.8" font-size="21" fill="#e8e8e8" text-anchor="start" textLength="40.3" lengthAdjust="spacingAndGlyphs">9090</text>
<rect x="3923" y="260" width="57" height="56" fill="none" stroke="#00e400" stroke-width="3.3"/>
<text x="3931" y="283.5" font-size="21" fill="#e8e8e8" text-anchor="start">P</text>
<text x="3929" y="304.8" font-size="21" fill="#e8e8e8" text-anchor="start" textLength="40.3" lengthAdjust="spacingAndGlyphs">9090</text>
<rect x="3868" y="316" width="55" height="70" fill="none" stroke="#00e400" stroke-width="3.3"/>
<text x="3876" y="345.4" font-size="21" fill="#e8e8e8" text-anchor="start">P</text>
<text x="3874" y="372" font-size="21" fill="#e8e8e8" text-anchor="start" textLength="40.3" lengthAdjust="spacingAndGlyphs">1190</text>
<rect x="3868" y="386" width="55" height="66" fill="none" stroke="#00e400" stroke-width="3.3"/>
<text x="3876" y="413.7" font-size="21" fill="#e8e8e8" text-anchor="start">P</text>
<text x="3874" y="438.8" font-size="21" fill="#e8e8e8" text-anchor="start" textLength="40.3" lengthAdjust="spacingAndGlyphs">1190</text>
<rect x="3923" y="316" width="57" height="70" fill="none" stroke="#00e400" stroke-width="3.3"/>
<text x="3931" y="345.4" font-size="21" fill="#e8e8e8" text-anchor="start">P</text>
<text x="3929" y="372" font-size="21" fill="#e8e8e8" text-anchor="start" textLength="40.3" lengthAdjust="spacingAndGlyphs">1190</text>
<rect x="3923" y="386" width="57" height="66" fill="none" stroke="#00e400" stroke-width="3.3"/>
<text x="3931" y="413.7" font-size="21" fill="#e8e8e8" text-anchor="start">P</text>
<text x="3929" y="438.8" font-size="21" fill="#e8e8e8" text-anchor="start" textLength="40.3" lengthAdjust="spacingAndGlyphs">1190</text>
<line x1="3923" y1="187" x2="3923" y2="260" stroke="#2626e6" stroke-width="3.2"/>
<circle cx="3923" cy="187" r="5.5" fill="#3434ff"/>
<circle cx="3923" cy="260" r="5.5" fill="#3434ff"/>
<text x="3937" y="225" font-size="24" fill="#00e400" text-anchor="middle" transform="rotate(90 3937 225)" textLength="29.5" lengthAdjust="spacingAndGlyphs">813</text>
<line x1="3923" y1="452" x2="3923" y2="566" stroke="#2626e6" stroke-width="3.2"/>
<circle cx="3923" cy="452" r="5.5" fill="#3434ff"/>
<circle cx="3923" cy="566" r="5.5" fill="#3434ff"/>
<text x="3937" y="508" font-size="24" fill="#00e400" text-anchor="middle" transform="rotate(90 3937 508)" textLength="59" lengthAdjust="spacingAndGlyphs">1, 813</text>
<rect x="3868" y="566" width="55" height="71" fill="none" stroke="#00e400" stroke-width="3.3"/>
<text x="3876" y="595.8" font-size="21" fill="#e8e8e8" text-anchor="start">P</text>
<text x="3874" y="622.8" font-size="21" fill="#e8e8e8" text-anchor="start" textLength="40.3" lengthAdjust="spacingAndGlyphs">1190</text>
<rect x="3868" y="637" width="55" height="68" fill="none" stroke="#00e400" stroke-width="3.3"/>
<text x="3876" y="665.6" font-size="21" fill="#e8e8e8" text-anchor="start">P</text>
<text x="3874" y="691.4" font-size="21" fill="#e8e8e8" text-anchor="start" textLength="40.3" lengthAdjust="spacingAndGlyphs">1190</text>
<rect x="3868" y="705" width="55" height="65" fill="none" stroke="#00e400" stroke-width="3.3"/>
<text x="3876" y="732.3" font-size="21" fill="#e8e8e8" text-anchor="start">P</text>
<text x="3874" y="757" font-size="21" fill="#e8e8e8" text-anchor="start" textLength="40.3" lengthAdjust="spacingAndGlyphs">1190</text>
<rect x="3923" y="566" width="57" height="71" fill="none" stroke="#00e400" stroke-width="3.3"/>
<text x="3931" y="595.8" font-size="21" fill="#e8e8e8" text-anchor="start">P</text>
<text x="3929" y="622.8" font-size="21" fill="#e8e8e8" text-anchor="start" textLength="40.3" lengthAdjust="spacingAndGlyphs">1190</text>
<rect x="3923" y="637" width="57" height="68" fill="none" stroke="#00e400" stroke-width="3.3"/>
<text x="3931" y="665.6" font-size="21" fill="#e8e8e8" text-anchor="start">P</text>
<text x="3929" y="691.4" font-size="21" fill="#e8e8e8" text-anchor="start" textLength="40.3" lengthAdjust="spacingAndGlyphs">1190</text>
<rect x="3923" y="705" width="57" height="65" fill="none" stroke="#00e400" stroke-width="3.3"/>
<text x="3931" y="732.3" font-size="21" fill="#e8e8e8" text-anchor="start">P</text>
<text x="3929" y="757" font-size="21" fill="#e8e8e8" text-anchor="start" textLength="40.3" lengthAdjust="spacingAndGlyphs">1190</text>
<rect x="3184" y="692" width="69" height="21" fill="none" stroke="#00e400" stroke-width="3.3"/>
<rect x="3184" y="713" width="69" height="57" fill="none" stroke="#00e400" stroke-width="3.3"/>
<text x="3194" y="738" font-size="19" fill="#e8e8e8" text-anchor="start">P</text>
<text x="3194" y="762" font-size="19" fill="#e8e8e8" text-anchor="start" textLength="31.2" lengthAdjust="spacingAndGlyphs">1190</text>
<text x="3194" y="708" font-size="19" fill="#e8e8e8" text-anchor="start" textLength="31.2" lengthAdjust="spacingAndGlyphs">1190</text>
<rect x="3253" y="692" width="68" height="21" fill="none" stroke="#00e400" stroke-width="3.3"/>
<rect x="3253" y="713" width="68" height="57" fill="none" stroke="#00e400" stroke-width="3.3"/>
<text x="3263" y="738" font-size="19" fill="#e8e8e8" text-anchor="start">P</text>
<text x="3263" y="762" font-size="19" fill="#e8e8e8" text-anchor="start" textLength="31.2" lengthAdjust="spacingAndGlyphs">1190</text>
<text x="3263" y="708" font-size="19" fill="#e8e8e8" text-anchor="start" textLength="31.2" lengthAdjust="spacingAndGlyphs">1190</text>
<rect x="3321" y="692" width="69" height="21" fill="none" stroke="#00e400" stroke-width="3.3"/>
<rect x="3321" y="713" width="69" height="57" fill="none" stroke="#00e400" stroke-width="3.3"/>
<text x="3331" y="738" font-size="19" fill="#e8e8e8" text-anchor="start">P</text>
<text x="3331" y="762" font-size="19" fill="#e8e8e8" text-anchor="start" textLength="31.2" lengthAdjust="spacingAndGlyphs">1190</text>
<text x="3331" y="708" font-size="19" fill="#e8e8e8" text-anchor="start" textLength="31.2" lengthAdjust="spacingAndGlyphs">1190</text>
<rect x="3390" y="692" width="69" height="21" fill="none" stroke="#00e400" stroke-width="3.3"/>
<rect x="3390" y="713" width="69" height="57" fill="none" stroke="#00e400" stroke-width="3.3"/>
<text x="3400" y="738" font-size="19" fill="#e8e8e8" text-anchor="start">P</text>
<text x="3400" y="762" font-size="19" fill="#e8e8e8" text-anchor="start" textLength="31.2" lengthAdjust="spacingAndGlyphs">1190</text>
<text x="3400" y="708" font-size="19" fill="#e8e8e8" text-anchor="start" textLength="31.2" lengthAdjust="spacingAndGlyphs">1190</text>
<rect x="3459" y="692" width="67" height="21" fill="none" stroke="#00e400" stroke-width="3.3"/>
<rect x="3459" y="713" width="67" height="57" fill="none" stroke="#00e400" stroke-width="3.3"/>
<text x="3469" y="738" font-size="19" fill="#e8e8e8" text-anchor="start">P</text>
<text x="3469" y="762" font-size="19" fill="#e8e8e8" text-anchor="start" textLength="31.2" lengthAdjust="spacingAndGlyphs">1190</text>
<text x="3469" y="708" font-size="19" fill="#e8e8e8" text-anchor="start" textLength="31.2" lengthAdjust="spacingAndGlyphs">1190</text>
<rect x="3526" y="692" width="68" height="21" fill="none" stroke="#00e400" stroke-width="3.3"/>
<rect x="3526" y="713" width="68" height="57" fill="none" stroke="#00e400" stroke-width="3.3"/>
<text x="3536" y="738" font-size="19" fill="#e8e8e8" text-anchor="start">P</text>
<text x="3536" y="762" font-size="19" fill="#e8e8e8" text-anchor="start" textLength="31.2" lengthAdjust="spacingAndGlyphs">1190</text>
<text x="3536" y="708" font-size="19" fill="#e8e8e8" text-anchor="start" textLength="31.2" lengthAdjust="spacingAndGlyphs">1190</text>
<rect x="3594" y="692" width="67" height="21" fill="none" stroke="#00e400" stroke-width="3.3"/>
<rect x="3594" y="713" width="67" height="57" fill="none" stroke="#00e400" stroke-width="3.3"/>
<text x="3604" y="738" font-size="19" fill="#e8e8e8" text-anchor="start">P</text>
<text x="3604" y="762" font-size="19" fill="#e8e8e8" text-anchor="start" textLength="31.2" lengthAdjust="spacingAndGlyphs">1190</text>
<text x="3604" y="708" font-size="19" fill="#e8e8e8" text-anchor="start" textLength="31.2" lengthAdjust="spacingAndGlyphs">1190</text>
<line x1="3663" y1="737" x2="3868" y2="737" stroke="#2626e6" stroke-width="3.2"/>
<circle cx="3663" cy="737" r="5.5" fill="#3434ff"/>
<circle cx="3868" cy="737" r="5.5" fill="#3434ff"/>
<text x="3765" y="726" font-size="24" fill="#00e400" text-anchor="middle" textLength="59" lengthAdjust="spacingAndGlyphs">3, 325</text>
<line x1="3980" y1="737" x2="4114" y2="737" stroke="#2626e6" stroke-width="3.2"/>
<circle cx="3980" cy="737" r="5.5" fill="#3434ff"/>
<circle cx="4114" cy="737" r="5.5" fill="#3434ff"/>
<text x="4045" y="726" font-size="24" fill="#00e400" text-anchor="middle" textLength="59" lengthAdjust="spacingAndGlyphs">2, 139</text>
<line x1="3064" y1="708" x2="3184" y2="708" stroke="#2626e6" stroke-width="3.2"/>
<circle cx="3064" cy="708" r="5.5" fill="#3434ff"/>
<circle cx="3184" cy="708" r="5.5" fill="#3434ff"/>
<text x="3135" y="699" font-size="24" fill="#00e400" text-anchor="middle" textLength="59" lengthAdjust="spacingAndGlyphs">1, 943</text>
<text x="3095" y="730" font-size="22" fill="#00e400" text-anchor="middle" transform="rotate(-90 3095 730)" textLength="54.1" lengthAdjust="spacingAndGlyphs">3, 450</text>
<line x1="3160" y1="772" x2="4223" y2="772" stroke="#8c8c8c" stroke-width="4"/>
<line x1="3251" y1="770" x2="3251" y2="860" stroke="#2626e6" stroke-width="3.2"/>
<circle cx="3251" cy="770" r="5.5" fill="#3434ff"/>
<circle cx="3251" cy="860" r="5.5" fill="#3434ff"/>
<text x="3237" y="810" font-size="20" fill="#00e400" text-anchor="middle" transform="rotate(-90 3237 810)" textLength="49.2" lengthAdjust="spacingAndGlyphs">1, 450</text>
<line x1="3490" y1="770" x2="3490" y2="899" stroke="#2626e6" stroke-width="3.2"/>
<circle cx="3490" cy="770" r="5.5" fill="#3434ff"/>
<circle cx="3490" cy="899" r="5.5" fill="#3434ff"/>
<text x="3504" y="830" font-size="24" fill="#00e400" text-anchor="middle" transform="rotate(90 3504 830)" textLength="59" lengthAdjust="spacingAndGlyphs">2, 100</text>
<line x1="4223" y1="770" x2="4223" y2="862" stroke="#2626e6" stroke-width="3.2"/>
<circle cx="4223" cy="770" r="5.5" fill="#3434ff"/>
<circle cx="4223" cy="862" r="5.5" fill="#3434ff"/>
<text x="4237" y="815" font-size="24" fill="#00e400" text-anchor="middle" transform="rotate(90 4237 815)" textLength="59" lengthAdjust="spacingAndGlyphs">1, 500</text>
<rect x="3197" y="859" width="64" height="52" fill="none" stroke="#8c8c8c" stroke-width="2"/>
<rect x="3705" y="862" width="44" height="47" fill="none" stroke="#8c8c8c" stroke-width="2"/>
<rect x="4198" y="862" width="48" height="47" fill="none" stroke="#8c8c8c" stroke-width="2"/>
<rect x="4096" y="243" width="58" height="76" fill="none" stroke="#00e400" stroke-width="3.3"/>
<text x="4125" y="275" font-size="20" fill="#e0e0e0" text-anchor="middle" textLength="52" lengthAdjust="spacingAndGlyphs">ﾌﾞﾛｯｸ</text>
<text x="4125" y="305" font-size="20" fill="#e0e0e0" text-anchor="middle" textLength="52" lengthAdjust="spacingAndGlyphs">ｽﾃｰｼﾞ</text>
<rect x="4154" y="241" width="246" height="80" fill="none" stroke="#00e400" stroke-width="3.3"/>
<line x1="4154" y1="279" x2="4400" y2="279" stroke="#00e400" stroke-width="3.3"/>
<line x1="4154" y1="284" x2="4400" y2="284" stroke="#00e400" stroke-width="3.3"/>
<line x1="4233" y1="241" x2="4233" y2="321" stroke="#00e400" stroke-width="3.3"/>
<line x1="4307" y1="241" x2="4307" y2="321" stroke="#00e400" stroke-width="3.3"/>
<line x1="4381" y1="241" x2="4381" y2="321" stroke="#00e400" stroke-width="3.3"/>
<text x="4189" y="268" font-size="20" fill="#e0e0e0" text-anchor="middle" textLength="43.2" lengthAdjust="spacingAndGlyphs">D600</text>
<text x="4189" y="309" font-size="20" fill="#e0e0e0" text-anchor="middle" textLength="43.2" lengthAdjust="spacingAndGlyphs">D600</text>
<rect x="4096" y="451" width="58" height="74" fill="none" stroke="#00e400" stroke-width="3.3"/>
<text x="4125" y="483" font-size="20" fill="#e0e0e0" text-anchor="middle" textLength="52" lengthAdjust="spacingAndGlyphs">ﾌﾞﾛｯｸ</text>
<text x="4125" y="513" font-size="20" fill="#e0e0e0" text-anchor="middle" textLength="52" lengthAdjust="spacingAndGlyphs">ｽﾃｰｼﾞ</text>
<rect x="4154" y="449" width="246" height="78" fill="none" stroke="#00e400" stroke-width="3.3"/>
<line x1="4154" y1="486" x2="4400" y2="486" stroke="#00e400" stroke-width="3.3"/>
<line x1="4154" y1="491" x2="4400" y2="491" stroke="#00e400" stroke-width="3.3"/>
<line x1="4233" y1="449" x2="4233" y2="527" stroke="#00e400" stroke-width="3.3"/>
<line x1="4307" y1="449" x2="4307" y2="527" stroke="#00e400" stroke-width="3.3"/>
<line x1="4381" y1="449" x2="4381" y2="527" stroke="#00e400" stroke-width="3.3"/>
<text x="4189" y="476" font-size="20" fill="#e0e0e0" text-anchor="middle" textLength="43.2" lengthAdjust="spacingAndGlyphs">D600</text>
<text x="4189" y="517" font-size="20" fill="#e0e0e0" text-anchor="middle" textLength="43.2" lengthAdjust="spacingAndGlyphs">D600</text>
<line x1="4223" y1="321" x2="4223" y2="449" stroke="#2626e6" stroke-width="2.5"/>
<circle cx="4223" cy="321" r="5.5" fill="#3434ff"/>
<circle cx="4223" cy="368" r="5.5" fill="#3434ff"/>
<circle cx="4223" cy="410" r="5.5" fill="#3434ff"/>
<circle cx="4223" cy="449" r="5.5" fill="#3434ff"/>
<text x="4238" y="345" font-size="20" fill="#00e400" text-anchor="middle" transform="rotate(90 4238 345)" textLength="24.6" lengthAdjust="spacingAndGlyphs">748</text>
<text x="4238" y="428" font-size="20" fill="#00e400" text-anchor="middle" transform="rotate(90 4238 428)" textLength="24.6" lengthAdjust="spacingAndGlyphs">603</text>
<rect x="4198" y="368" width="47" height="42" fill="none" stroke="#8c8c8c" stroke-width="2"/>
<rect x="4181" y="655" width="219" height="39" fill="none" stroke="#00e400" stroke-width="3.3"/>
<line x1="4257" y1="655" x2="4257" y2="694" stroke="#00e400" stroke-width="3.3"/>
<line x1="4333" y1="655" x2="4333" y2="694" stroke="#00e400" stroke-width="3.3"/>
<text x="4215" y="683" font-size="21" fill="#e0e0e0" text-anchor="middle" textLength="45.4" lengthAdjust="spacingAndGlyphs">D600</text>
<line x1="4111" y1="655" x2="4181" y2="655" stroke="#8c8c8c" stroke-width="3"/>
<line x1="4111" y1="655" x2="4111" y2="772" stroke="#8c8c8c" stroke-width="2"/>
<line x1="4181" y1="700" x2="4400" y2="700" stroke="#8c8c8c" stroke-width="2"/>
<circle cx="4128" cy="715" r="12" fill="none" stroke="#b4b4b4" stroke-width="1.5"/>
<circle cx="4130" cy="738" r="12" fill="none" stroke="#b4b4b4" stroke-width="1.5"/>
<circle cx="4195" cy="720" r="12" fill="none" stroke="#b4b4b4" stroke-width="1.5"/>
<rect x="3204" y="899" width="58" height="439" fill="none" stroke="#00e400" stroke-width="3.3"/>
<rect x="3262" y="899" width="73" height="504" fill="none" stroke="#00e400" stroke-width="3.3"/>
<line x1="3204" y1="911" x2="3262" y2="911" stroke="#00e400" stroke-width="3.3"/>
<line x1="3204" y1="984" x2="3262" y2="984" stroke="#00e400" stroke-width="3.3"/>
<line x1="3204" y1="1058" x2="3262" y2="1058" stroke="#00e400" stroke-width="3.3"/>
<line x1="3204" y1="1133" x2="3262" y2="1133" stroke="#00e400" stroke-width="3.3"/>
<line x1="3204" y1="1207" x2="3262" y2="1207" stroke="#00e400" stroke-width="3.3"/>
<line x1="3204" y1="1282" x2="3262" y2="1282" stroke="#00e400" stroke-width="3.3"/>
<line x1="3262" y1="974" x2="3335" y2="974" stroke="#00e400" stroke-width="3.3"/>
<line x1="3262" y1="1049" x2="3335" y2="1049" stroke="#00e400" stroke-width="3.3"/>
<line x1="3262" y1="1125" x2="3335" y2="1125" stroke="#00e400" stroke-width="3.3"/>
<line x1="3262" y1="1198" x2="3335" y2="1198" stroke="#00e400" stroke-width="3.3"/>
<line x1="3262" y1="1272" x2="3335" y2="1272" stroke="#00e400" stroke-width="3.3"/>
<line x1="3262" y1="1343" x2="3335" y2="1343" stroke="#00e400" stroke-width="3.3"/>
<rect x="3490" y="899" width="75" height="504" fill="none" stroke="#00e400" stroke-width="3.3"/>
<rect x="3565" y="899" width="73" height="504" fill="none" stroke="#00e400" stroke-width="3.3"/>
<line x1="3490" y1="974" x2="3565" y2="974" stroke="#00e400" stroke-width="3.3"/>
<line x1="3490" y1="1049" x2="3565" y2="1049" stroke="#00e400" stroke-width="3.3"/>
<line x1="3490" y1="1125" x2="3565" y2="1125" stroke="#00e400" stroke-width="3.3"/>
<line x1="3490" y1="1198" x2="3565" y2="1198" stroke="#00e400" stroke-width="3.3"/>
<line x1="3490" y1="1272" x2="3565" y2="1272" stroke="#00e400" stroke-width="3.3"/>
<line x1="3490" y1="1343" x2="3565" y2="1343" stroke="#00e400" stroke-width="3.3"/>
<line x1="3565" y1="974" x2="3638" y2="974" stroke="#00e400" stroke-width="3.3"/>
<line x1="3565" y1="1049" x2="3638" y2="1049" stroke="#00e400" stroke-width="3.3"/>
<line x1="3565" y1="1125" x2="3638" y2="1125" stroke="#00e400" stroke-width="3.3"/>
<line x1="3565" y1="1198" x2="3638" y2="1198" stroke="#00e400" stroke-width="3.3"/>
<line x1="3565" y1="1272" x2="3638" y2="1272" stroke="#00e400" stroke-width="3.3"/>
<line x1="3565" y1="1343" x2="3638" y2="1343" stroke="#00e400" stroke-width="3.3"/>
<rect x="3791" y="899" width="77" height="504" fill="none" stroke="#00e400" stroke-width="3.3"/>
<rect x="3868" y="899" width="72" height="504" fill="none" stroke="#00e400" stroke-width="3.3"/>
<line x1="3791" y1="974" x2="3868" y2="974" stroke="#00e400" stroke-width="3.3"/>
<line x1="3791" y1="1049" x2="3868" y2="1049" stroke="#00e400" stroke-width="3.3"/>
<line x1="3791" y1="1125" x2="3868" y2="1125" stroke="#00e400" stroke-width="3.3"/>
<line x1="3791" y1="1198" x2="3868" y2="1198" stroke="#00e400" stroke-width="3.3"/>
<line x1="3791" y1="1272" x2="3868" y2="1272" stroke="#00e400" stroke-width="3.3"/>
<line x1="3791" y1="1343" x2="3868" y2="1343" stroke="#00e400" stroke-width="3.3"/>
<line x1="3868" y1="974" x2="3940" y2="974" stroke="#00e400" stroke-width="3.3"/>
<line x1="3868" y1="1049" x2="3940" y2="1049" stroke="#00e400" stroke-width="3.3"/>
<line x1="3868" y1="1125" x2="3940" y2="1125" stroke="#00e400" stroke-width="3.3"/>
<line x1="3868" y1="1198" x2="3940" y2="1198" stroke="#00e400" stroke-width="3.3"/>
<line x1="3868" y1="1272" x2="3940" y2="1272" stroke="#00e400" stroke-width="3.3"/>
<line x1="3868" y1="1343" x2="3940" y2="1343" stroke="#00e400" stroke-width="3.3"/>
<rect x="4092" y="899" width="76" height="504" fill="none" stroke="#00e400" stroke-width="3.3"/>
<rect x="4168" y="899" width="76" height="504" fill="none" stroke="#00e400" stroke-width="3.3"/>
<line x1="4092" y1="974" x2="4168" y2="974" stroke="#00e400" stroke-width="3.3"/>
<line x1="4092" y1="1049" x2="4168" y2="1049" stroke="#00e400" stroke-width="3.3"/>
<line x1="4092" y1="1125" x2="4168" y2="1125" stroke="#00e400" stroke-width="3.3"/>
<line x1="4092" y1="1198" x2="4168" y2="1198" stroke="#00e400" stroke-width="3.3"/>
<line x1="4092" y1="1272" x2="4168" y2="1272" stroke="#00e400" stroke-width="3.3"/>
<line x1="4092" y1="1343" x2="4168" y2="1343" stroke="#00e400" stroke-width="3.3"/>
<line x1="4168" y1="984" x2="4244" y2="984" stroke="#00e400" stroke-width="3.3"/>
<line x1="4168" y1="1058" x2="4244" y2="1058" stroke="#00e400" stroke-width="3.3"/>
<line x1="4168" y1="1133" x2="4244" y2="1133" stroke="#00e400" stroke-width="3.3"/>
<line x1="4168" y1="1207" x2="4244" y2="1207" stroke="#00e400" stroke-width="3.3"/>
<line x1="4168" y1="1282" x2="4244" y2="1282" stroke="#00e400" stroke-width="3.3"/>
<line x1="4168" y1="1343" x2="4244" y2="1343" stroke="#00e400" stroke-width="3.3"/>
<rect x="4380" y="899" width="20" height="504" fill="none" stroke="#00e400" stroke-width="3.3"/>
<line x1="3337" y1="899" x2="4400" y2="899" stroke="#a858a8" stroke-width="2.5" stroke-dasharray="3 5"/>
<line x1="3054" y1="1253" x2="3205" y2="1253" stroke="#2626e6" stroke-width="3.2"/>
<circle cx="3054" cy="1253" r="5.5" fill="#3434ff"/>
<circle cx="3205" cy="1253" r="5.5" fill="#3434ff"/>
<text x="3130" y="1243" font-size="24" fill="#00e400" text-anchor="middle" textLength="59" lengthAdjust="spacingAndGlyphs">2, 400</text>
<line x1="3337" y1="1253" x2="3490" y2="1253" stroke="#2626e6" stroke-width="3.2"/>
<circle cx="3337" cy="1253" r="5.5" fill="#3434ff"/>
<circle cx="3490" cy="1253" r="5.5" fill="#3434ff"/>
<text x="3412" y="1243" font-size="24" fill="#00e400" text-anchor="middle" textLength="59" lengthAdjust="spacingAndGlyphs">2, 483</text>
<line x1="3638" y1="1253" x2="3793" y2="1253" stroke="#2626e6" stroke-width="3.2"/>
<circle cx="3638" cy="1253" r="5.5" fill="#3434ff"/>
<circle cx="3793" cy="1253" r="5.5" fill="#3434ff"/>
<text x="3716" y="1243" font-size="24" fill="#00e400" text-anchor="middle" textLength="59" lengthAdjust="spacingAndGlyphs">2, 483</text>
<line x1="3940" y1="1253" x2="4095" y2="1253" stroke="#2626e6" stroke-width="3.2"/>
<circle cx="3940" cy="1253" r="5.5" fill="#3434ff"/>
<circle cx="4095" cy="1253" r="5.5" fill="#3434ff"/>
<text x="4017" y="1243" font-size="24" fill="#00e400" text-anchor="middle" textLength="59" lengthAdjust="spacingAndGlyphs">2, 483</text>
<line x1="4244" y1="1253" x2="4380" y2="1253" stroke="#2626e6" stroke-width="3.2"/>
<circle cx="4244" cy="1253" r="5.5" fill="#3434ff"/>
<circle cx="4380" cy="1253" r="5.5" fill="#3434ff"/>
<text x="4310" y="1243" font-size="24" fill="#00e400" text-anchor="middle" textLength="59" lengthAdjust="spacingAndGlyphs">2, 201</text>
<line x1="3638" y1="1380" x2="3705" y2="1380" stroke="#2626e6" stroke-width="3.2"/>
<circle cx="3638" cy="1380" r="5.5" fill="#3434ff"/>
<circle cx="3705" cy="1380" r="5.5" fill="#3434ff"/>
<text x="3670" y="1370" font-size="22" fill="#00e400" text-anchor="middle" textLength="54.1" lengthAdjust="spacingAndGlyphs">1, 064</text>
<line x1="3749" y1="1380" x2="3794" y2="1380" stroke="#2626e6" stroke-width="3.2"/>
<circle cx="3749" cy="1380" r="5.5" fill="#3434ff"/>
<circle cx="3794" cy="1380" r="5.5" fill="#3434ff"/>
<text x="3770" y="1370" font-size="22" fill="#00e400" text-anchor="middle" textLength="27.1" lengthAdjust="spacingAndGlyphs">714</text>
<rect x="3201" y="1355" width="55" height="50" fill="none" stroke="#8c8c8c" stroke-width="2"/>
<rect x="3704" y="1355" width="45" height="48" fill="none" stroke="#8c8c8c" stroke-width="2"/>
<rect x="4198" y="1355" width="48" height="48" fill="none" stroke="#8c8c8c" stroke-width="2"/>
<circle cx="3967" cy="932" r="91" fill="none" stroke="#b00000" stroke-width="2.2"/>
<circle cx="3967" cy="1138" r="91" fill="none" stroke="#b00000" stroke-width="2.2"/>
<circle cx="3967" cy="1344" r="91" fill="none" stroke="#b00000" stroke-width="2.2"/>
<text x="4065" y="1160" font-size="22" fill="#b00000" text-anchor="middle" transform="rotate(-90 4065 1160)" textLength="350" lengthAdjust="spacingAndGlyphs">ショックマCADでは冷ケースあり。</text>
<rect x="3913" y="882" width="114" height="56" fill="none" stroke="#8c8c8c" stroke-width="3"/>
<rect x="3978" y="1088" width="49" height="110" fill="none" stroke="#8c8c8c" stroke-width="3"/>
<rect x="3913" y="1344" width="111" height="57" fill="none" stroke="#8c8c8c" stroke-width="3"/>
<rect x="4168" y="907" width="112" height="64" fill="none" stroke="#b4b4b4" stroke-width="1.6" stroke-dasharray="3 4"/>
<line x1="3912" y1="1401" x2="3912" y2="1599" stroke="#2626e6" stroke-width="3.2"/>
<circle cx="3912" cy="1401" r="5.5" fill="#3434ff"/>
<circle cx="3912" cy="1599" r="5.5" fill="#3434ff"/>
<text x="3898" y="1500" font-size="22" fill="#00e400" text-anchor="middle" transform="rotate(-90 3898 1500)" textLength="54.1" lengthAdjust="spacingAndGlyphs">3, 175</text>
<rect x="27" y="1155" width="300" height="149" fill="none" stroke="#00e400" stroke-width="3.3"/>
<line x1="27" y1="1230" x2="327" y2="1230" stroke="#00e400" stroke-width="3.3"/>
<line x1="64.5" y1="1155" x2="64.5" y2="1304" stroke="#00e400" stroke-width="3.3"/>
<line x1="102" y1="1155" x2="102" y2="1304" stroke="#00e400" stroke-width="3.3"/>
<line x1="139.5" y1="1155" x2="139.5" y2="1304" stroke="#00e400" stroke-width="3.3"/>
<line x1="177" y1="1155" x2="177" y2="1304" stroke="#00e400" stroke-width="3.3"/>
<line x1="214.5" y1="1155" x2="214.5" y2="1304" stroke="#00e400" stroke-width="3.3"/>
<line x1="252" y1="1155" x2="252" y2="1304" stroke="#00e400" stroke-width="3.3"/>
<line x1="289.5" y1="1155" x2="289.5" y2="1304" stroke="#00e400" stroke-width="3.3"/>
<line x1="132" y1="959" x2="132" y2="1155" stroke="#2626e6" stroke-width="3.2"/>
<circle cx="132" cy="959" r="5.5" fill="#3434ff"/>
<circle cx="132" cy="1155" r="5.5" fill="#3434ff"/>
<text x="146" y="1060" font-size="24" fill="#00e400" text-anchor="middle" transform="rotate(90 146 1060)" textLength="59" lengthAdjust="spacingAndGlyphs">3, 150</text>
<line x1="890" y1="959" x2="890" y2="1155" stroke="#2626e6" stroke-width="3.2"/>
<circle cx="890" cy="959" r="5.5" fill="#3434ff"/>
<circle cx="890" cy="1155" r="5.5" fill="#3434ff"/>
<text x="880" y="1060" font-size="28" fill="#00e400" text-anchor="middle" transform="rotate(-90 880 1060)" textLength="68.9" lengthAdjust="spacingAndGlyphs">3, 150</text>
<line x1="132" y1="1303" x2="132" y2="1405" stroke="#2626e6" stroke-width="3.2"/>
<circle cx="132" cy="1303" r="5.5" fill="#3434ff"/>
<circle cx="132" cy="1405" r="5.5" fill="#3434ff"/>
<text x="146" y="1352" font-size="24" fill="#00e400" text-anchor="middle" transform="rotate(90 146 1352)" textLength="59" lengthAdjust="spacingAndGlyphs">1, 649</text>
<line x1="132" y1="1517" x2="132" y2="1663" stroke="#2626e6" stroke-width="3.2"/>
<circle cx="132" cy="1517" r="5.5" fill="#3434ff"/>
<circle cx="132" cy="1663" r="5.5" fill="#3434ff"/>
<text x="146" y="1590" font-size="24" fill="#00e400" text-anchor="middle" transform="rotate(90 146 1590)" textLength="59" lengthAdjust="spacingAndGlyphs">2, 387</text>
<rect x="503" y="1155" width="173" height="32" fill="none" stroke="#00e400" stroke-width="3.3"/>
<line x1="558" y1="1155" x2="558" y2="1187" stroke="#00e400" stroke-width="3.3"/>
<line x1="616" y1="1155" x2="616" y2="1187" stroke="#00e400" stroke-width="3.3"/>
<text x="531" y="1180" font-size="16" fill="#e0e0e0" text-anchor="middle" textLength="26.2" lengthAdjust="spacingAndGlyphs">D450</text>
<rect x="496" y="1187" width="186" height="116" fill="none" stroke="#00e400" stroke-width="3.3"/>
<line x1="524" y1="1187" x2="524" y2="1303" stroke="#00e400" stroke-width="3.3"/>
<line x1="652" y1="1187" x2="652" y2="1303" stroke="#00e400" stroke-width="3.3"/>
<line x1="496" y1="1252" x2="682" y2="1252" stroke="#2626e6" stroke-width="3.2"/>
<circle cx="496" cy="1252" r="5.5" fill="#3434ff"/>
<circle cx="682" cy="1252" r="5.5" fill="#3434ff"/>
<text x="589" y="1242" font-size="24" fill="#00e400" text-anchor="middle" textLength="59" lengthAdjust="spacingAndGlyphs">3, 000</text>
<rect x="524" y="1257" width="30" height="42" fill="none" stroke="#00e400" stroke-width="3"/>
<rect x="554" y="1277" width="20" height="20" fill="#00a000" stroke="#00e400" stroke-width="3"/>
<rect x="622" y="1257" width="30" height="42" fill="none" stroke="#00e400" stroke-width="3"/>
<rect x="602" y="1277" width="20" height="20" fill="#00a000" stroke="#00e400" stroke-width="3"/>
<rect x="802" y="1155" width="173" height="32" fill="none" stroke="#00e400" stroke-width="3.3"/>
<line x1="857" y1="1155" x2="857" y2="1187" stroke="#00e400" stroke-width="3.3"/>
<line x1="915" y1="1155" x2="915" y2="1187" stroke="#00e400" stroke-width="3.3"/>
<text x="830" y="1180" font-size="16" fill="#e0e0e0" text-anchor="middle" textLength="26.2" lengthAdjust="spacingAndGlyphs">D450</text>
<rect x="795" y="1187" width="186" height="116" fill="none" stroke="#00e400" stroke-width="3.3"/>
<line x1="823" y1="1187" x2="823" y2="1303" stroke="#00e400" stroke-width="3.3"/>
<line x1="951" y1="1187" x2="951" y2="1303" stroke="#00e400" stroke-width="3.3"/>
<line x1="795" y1="1252" x2="981" y2="1252" stroke="#2626e6" stroke-width="3.2"/>
<circle cx="795" cy="1252" r="5.5" fill="#3434ff"/>
<circle cx="981" cy="1252" r="5.5" fill="#3434ff"/>
<text x="888" y="1242" font-size="24" fill="#00e400" text-anchor="middle" textLength="59" lengthAdjust="spacingAndGlyphs">3, 000</text>
<rect x="823" y="1257" width="30" height="42" fill="none" stroke="#00e400" stroke-width="3"/>
<rect x="853" y="1277" width="20" height="20" fill="#00a000" stroke="#00e400" stroke-width="3"/>
<rect x="921" y="1257" width="30" height="42" fill="none" stroke="#00e400" stroke-width="3"/>
<rect x="901" y="1277" width="20" height="20" fill="#00a000" stroke="#00e400" stroke-width="3"/>
<rect x="1097" y="1155" width="174" height="32" fill="none" stroke="#00e400" stroke-width="3.3"/>
<line x1="1152" y1="1155" x2="1152" y2="1187" stroke="#00e400" stroke-width="3.3"/>
<line x1="1210" y1="1155" x2="1210" y2="1187" stroke="#00e400" stroke-width="3.3"/>
<text x="1125" y="1180" font-size="16" fill="#e0e0e0" text-anchor="middle" textLength="26.2" lengthAdjust="spacingAndGlyphs">D450</text>
<rect x="1090" y="1187" width="187" height="116" fill="none" stroke="#00e400" stroke-width="3.3"/>
<line x1="1118" y1="1187" x2="1118" y2="1303" stroke="#00e400" stroke-width="3.3"/>
<line x1="1247" y1="1187" x2="1247" y2="1303" stroke="#00e400" stroke-width="3.3"/>
<line x1="1090" y1="1252" x2="1277" y2="1252" stroke="#2626e6" stroke-width="3.2"/>
<circle cx="1090" cy="1252" r="5.5" fill="#3434ff"/>
<circle cx="1277" cy="1252" r="5.5" fill="#3434ff"/>
<text x="1183.5" y="1242" font-size="24" fill="#00e400" text-anchor="middle" textLength="59" lengthAdjust="spacingAndGlyphs">3, 000</text>
<rect x="1118" y="1257" width="30" height="42" fill="none" stroke="#00e400" stroke-width="3"/>
<rect x="1148" y="1277" width="20" height="20" fill="#00a000" stroke="#00e400" stroke-width="3"/>
<rect x="1217" y="1257" width="30" height="42" fill="none" stroke="#00e400" stroke-width="3"/>
<rect x="1197" y="1277" width="20" height="20" fill="#00a000" stroke="#00e400" stroke-width="3"/>
<line x1="327" y1="1213" x2="496" y2="1213" stroke="#2626e6" stroke-width="3.2"/>
<circle cx="327" cy="1213" r="5.5" fill="#3434ff"/>
<circle cx="496" cy="1213" r="5.5" fill="#3434ff"/>
<text x="411.5" y="1203" font-size="24" fill="#00e400" text-anchor="middle" textLength="59" lengthAdjust="spacingAndGlyphs">2, 751</text>
<line x1="682" y1="1213" x2="795" y2="1213" stroke="#2626e6" stroke-width="3.2"/>
<circle cx="682" cy="1213" r="5.5" fill="#3434ff"/>
<circle cx="795" cy="1213" r="5.5" fill="#3434ff"/>
<text x="738.5" y="1203" font-size="24" fill="#00e400" text-anchor="middle" textLength="59" lengthAdjust="spacingAndGlyphs">1, 800</text>
<line x1="981" y1="1213" x2="1090" y2="1213" stroke="#2626e6" stroke-width="3.2"/>
<circle cx="981" cy="1213" r="5.5" fill="#3434ff"/>
<circle cx="1090" cy="1213" r="5.5" fill="#3434ff"/>
<text x="1035" y="1203" font-size="24" fill="#00e400" text-anchor="middle" textLength="59" lengthAdjust="spacingAndGlyphs">1, 800</text>
<line x1="1277" y1="1213" x2="1393" y2="1213" stroke="#2626e6" stroke-width="3.2"/>
<circle cx="1277" cy="1213" r="5.5" fill="#3434ff"/>
<circle cx="1393" cy="1213" r="5.5" fill="#3434ff"/>
<text x="1335" y="1203" font-size="24" fill="#00e400" text-anchor="middle" textLength="59" lengthAdjust="spacingAndGlyphs">1, 874</text>
<line x1="1599" y1="1213" x2="1717" y2="1213" stroke="#2626e6" stroke-width="3.2"/>
<circle cx="1599" cy="1213" r="5.5" fill="#3434ff"/>
<circle cx="1717" cy="1213" r="5.5" fill="#3434ff"/>
<text x="1658" y="1203" font-size="24" fill="#00e400" text-anchor="middle" textLength="59" lengthAdjust="spacingAndGlyphs">1, 875</text>
<line x1="1393" y1="1187" x2="1599" y2="1187" stroke="#00e400" stroke-width="4.5"/>
<line x1="1415" y1="1178" x2="1415" y2="1187" stroke="#00e400" stroke-width="3"/>
<line x1="1521" y1="1178" x2="1521" y2="1187" stroke="#00e400" stroke-width="3"/>
<line x1="1577" y1="1178" x2="1577" y2="1187" stroke="#00e400" stroke-width="3"/>
<line x1="1393" y1="1187" x2="1393" y2="1303" stroke="#00e400" stroke-width="3.3"/>
<line x1="1599" y1="1187" x2="1599" y2="1303" stroke="#00e400" stroke-width="3.3"/>
<line x1="1421" y1="1187" x2="1421" y2="1303" stroke="#00e400" stroke-width="3.3"/>
<line x1="1570" y1="1187" x2="1570" y2="1303" stroke="#00e400" stroke-width="3.3"/>
<line x1="1393" y1="1266" x2="1599" y2="1266" stroke="#2626e6" stroke-width="3.2"/>
<circle cx="1393" cy="1266" r="5.5" fill="#3434ff"/>
<circle cx="1599" cy="1266" r="5.5" fill="#3434ff"/>
<text x="1496" y="1256" font-size="24" fill="#00e400" text-anchor="middle" textLength="59" lengthAdjust="spacingAndGlyphs">3, 000</text>
<rect x="1394" y="1302" width="32" height="49" fill="none" stroke="#00e400" stroke-width="4"/>
<line x1="1394" y1="1318" x2="1426" y2="1318" stroke="#00e400" stroke-width="3"/>
<line x1="1402" y1="1318" x2="1402" y2="1351" stroke="#00e400" stroke-width="2.5"/>
<line x1="1418" y1="1318" x2="1418" y2="1351" stroke="#00e400" stroke-width="2.5"/>
<rect x="1415" y="1326" width="26" height="23" rx="7" fill="#007000" stroke="#00e400" stroke-width="3.5"/>
<rect x="1421" y="1331" width="14" height="7" fill="none" stroke="#00e400" stroke-width="2"/>
<rect x="1567" y="1302" width="31" height="49" fill="none" stroke="#00e400" stroke-width="4"/>
<line x1="1567" y1="1318" x2="1598" y2="1318" stroke="#00e400" stroke-width="3"/>
<line x1="1575" y1="1318" x2="1575" y2="1351" stroke="#00e400" stroke-width="2.5"/>
<line x1="1590" y1="1318" x2="1590" y2="1351" stroke="#00e400" stroke-width="2.5"/>
<rect x="1553" y="1326" width="26" height="23" rx="7" fill="#007000" stroke="#00e400" stroke-width="3.5"/>
<rect x="1559" y="1331" width="14" height="7" fill="none" stroke="#00e400" stroke-width="2"/>
<rect x="1506" y="1312" width="57" height="39" fill="none" stroke="#00e400" stroke-width="4"/>
<rect x="1528" y="1298" width="27" height="28" rx="10" fill="none" stroke="#00e400" stroke-width="3.5"/>
<rect x="1530" y="1324" width="23" height="19" fill="none" stroke="#00e400" stroke-width="3"/>
<line x1="1530" y1="1334" x2="1553" y2="1334" stroke="#00e400" stroke-width="2"/>
<line x1="1715" y1="1187" x2="1938" y2="1187" stroke="#00e400" stroke-width="4.5"/>
<line x1="1737" y1="1178" x2="1737" y2="1187" stroke="#00e400" stroke-width="3"/>
<line x1="1843" y1="1178" x2="1843" y2="1187" stroke="#00e400" stroke-width="3"/>
<line x1="1899" y1="1178" x2="1899" y2="1187" stroke="#00e400" stroke-width="3"/>
<line x1="1715" y1="1187" x2="1715" y2="1303" stroke="#00e400" stroke-width="3.3"/>
<line x1="1938" y1="1187" x2="1938" y2="1303" stroke="#00e400" stroke-width="3.3"/>
<line x1="1743" y1="1187" x2="1743" y2="1303" stroke="#00e400" stroke-width="3.3"/>
<line x1="1909" y1="1187" x2="1909" y2="1303" stroke="#00e400" stroke-width="3.3"/>
<line x1="1715" y1="1266" x2="1938" y2="1266" stroke="#2626e6" stroke-width="3.2"/>
<circle cx="1715" cy="1266" r="5.5" fill="#3434ff"/>
<circle cx="1938" cy="1266" r="5.5" fill="#3434ff"/>
<text x="1826.5" y="1256" font-size="24" fill="#00e400" text-anchor="middle" textLength="59" lengthAdjust="spacingAndGlyphs">3, 626</text>
<rect x="1716" y="1302" width="32" height="49" fill="none" stroke="#00e400" stroke-width="4"/>
<line x1="1716" y1="1318" x2="1748" y2="1318" stroke="#00e400" stroke-width="3"/>
<line x1="1724" y1="1318" x2="1724" y2="1351" stroke="#00e400" stroke-width="2.5"/>
<line x1="1740" y1="1318" x2="1740" y2="1351" stroke="#00e400" stroke-width="2.5"/>
<rect x="1737" y="1326" width="26" height="23" rx="7" fill="#007000" stroke="#00e400" stroke-width="3.5"/>
<rect x="1743" y="1331" width="14" height="7" fill="none" stroke="#00e400" stroke-width="2"/>
<rect x="1906" y="1302" width="31" height="49" fill="none" stroke="#00e400" stroke-width="4"/>
<line x1="1906" y1="1318" x2="1937" y2="1318" stroke="#00e400" stroke-width="3"/>
<line x1="1914" y1="1318" x2="1914" y2="1351" stroke="#00e400" stroke-width="2.5"/>
<line x1="1929" y1="1318" x2="1929" y2="1351" stroke="#00e400" stroke-width="2.5"/>
<rect x="1892" y="1326" width="26" height="23" rx="7" fill="#007000" stroke="#00e400" stroke-width="3.5"/>
<rect x="1898" y="1331" width="14" height="7" fill="none" stroke="#00e400" stroke-width="2"/>
<rect x="1845" y="1312" width="57" height="39" fill="none" stroke="#00e400" stroke-width="4"/>
<rect x="1867" y="1298" width="27" height="28" rx="10" fill="none" stroke="#00e400" stroke-width="3.5"/>
<rect x="1869" y="1324" width="23" height="19" fill="none" stroke="#00e400" stroke-width="3"/>
<line x1="1869" y1="1334" x2="1892" y2="1334" stroke="#00e400" stroke-width="2"/>
<line x1="2082" y1="1187" x2="2314" y2="1187" stroke="#00e400" stroke-width="4.5"/>
<line x1="2104" y1="1178" x2="2104" y2="1187" stroke="#00e400" stroke-width="3"/>
<line x1="2210" y1="1178" x2="2210" y2="1187" stroke="#00e400" stroke-width="3"/>
<line x1="2266" y1="1178" x2="2266" y2="1187" stroke="#00e400" stroke-width="3"/>
<line x1="2082" y1="1187" x2="2082" y2="1303" stroke="#00e400" stroke-width="3.3"/>
<line x1="2314" y1="1187" x2="2314" y2="1303" stroke="#00e400" stroke-width="3.3"/>
<line x1="2110" y1="1187" x2="2110" y2="1303" stroke="#00e400" stroke-width="3.3"/>
<line x1="2285" y1="1187" x2="2285" y2="1303" stroke="#00e400" stroke-width="3.3"/>
<line x1="2082" y1="1274" x2="2314" y2="1274" stroke="#2626e6" stroke-width="3.2"/>
<circle cx="2082" cy="1274" r="5.5" fill="#3434ff"/>
<circle cx="2314" cy="1274" r="5.5" fill="#3434ff"/>
<text x="2198" y="1264" font-size="24" fill="#00e400" text-anchor="middle" textLength="59" lengthAdjust="spacingAndGlyphs">3, 775</text>
<rect x="2083" y="1302" width="32" height="49" fill="none" stroke="#00e400" stroke-width="4"/>
<line x1="2083" y1="1318" x2="2115" y2="1318" stroke="#00e400" stroke-width="3"/>
<line x1="2091" y1="1318" x2="2091" y2="1351" stroke="#00e400" stroke-width="2.5"/>
<line x1="2107" y1="1318" x2="2107" y2="1351" stroke="#00e400" stroke-width="2.5"/>
<rect x="2104" y="1326" width="26" height="23" rx="7" fill="#007000" stroke="#00e400" stroke-width="3.5"/>
<rect x="2110" y="1331" width="14" height="7" fill="none" stroke="#00e400" stroke-width="2"/>
<rect x="2282" y="1302" width="31" height="49" fill="none" stroke="#00e400" stroke-width="4"/>
<line x1="2282" y1="1318" x2="2313" y2="1318" stroke="#00e400" stroke-width="3"/>
<line x1="2290" y1="1318" x2="2290" y2="1351" stroke="#00e400" stroke-width="2.5"/>
<line x1="2305" y1="1318" x2="2305" y2="1351" stroke="#00e400" stroke-width="2.5"/>
<rect x="2268" y="1326" width="26" height="23" rx="7" fill="#007000" stroke="#00e400" stroke-width="3.5"/>
<rect x="2274" y="1331" width="14" height="7" fill="none" stroke="#00e400" stroke-width="2"/>
<rect x="2221" y="1312" width="57" height="39" fill="none" stroke="#00e400" stroke-width="4"/>
<rect x="2243" y="1298" width="27" height="28" rx="10" fill="none" stroke="#00e400" stroke-width="3.5"/>
<rect x="2245" y="1324" width="23" height="19" fill="none" stroke="#00e400" stroke-width="3"/>
<line x1="2245" y1="1334" x2="2268" y2="1334" stroke="#00e400" stroke-width="2"/>
<text x="2187" y="1341" font-size="20" fill="#00e400" text-anchor="middle" textLength="24.6" lengthAdjust="spacingAndGlyphs">600</text>
<line x1="2172" y1="1345" x2="2212" y2="1345" stroke="#2626e6" stroke-width="3.2"/>
<circle cx="2172" cy="1345" r="5.5" fill="#3434ff"/>
<circle cx="2212" cy="1345" r="5.5" fill="#3434ff"/>
<line x1="2314" y1="1251" x2="2429" y2="1251" stroke="#2626e6" stroke-width="3.2"/>
<circle cx="2314" cy="1251" r="5.5" fill="#3434ff"/>
<circle cx="2429" cy="1251" r="5.5" fill="#3434ff"/>
<text x="2368" y="1240" font-size="24" fill="#00e400" text-anchor="middle" textLength="59" lengthAdjust="spacingAndGlyphs">1, 835</text>
<line x1="2474" y1="1251" x2="2661" y2="1251" stroke="#2626e6" stroke-width="3.2"/>
<circle cx="2474" cy="1251" r="5.5" fill="#3434ff"/>
<circle cx="2661" cy="1251" r="5.5" fill="#3434ff"/>
<text x="2563" y="1240" font-size="24" fill="#00e400" text-anchor="middle" textLength="59" lengthAdjust="spacingAndGlyphs">3, 000</text>
<line x1="2758" y1="1251" x2="2851" y2="1251" stroke="#2626e6" stroke-width="3.2"/>
<circle cx="2758" cy="1251" r="5.5" fill="#3434ff"/>
<circle cx="2851" cy="1251" r="5.5" fill="#3434ff"/>
<text x="2806" y="1240" font-size="24" fill="#00e400" text-anchor="middle" textLength="59" lengthAdjust="spacingAndGlyphs">1, 480</text>
<line x1="583" y1="1302" x2="583" y2="1484" stroke="#2626e6" stroke-width="3.2"/>
<circle cx="583" cy="1302" r="5.5" fill="#3434ff"/>
<circle cx="583" cy="1484" r="5.5" fill="#3434ff"/>
<text x="597" y="1392" font-size="24" fill="#00e400" text-anchor="middle" transform="rotate(90 597 1392)" textLength="59" lengthAdjust="spacingAndGlyphs">2, 940</text>
<line x1="583" y1="1559" x2="583" y2="1663" stroke="#2626e6" stroke-width="3.2"/>
<circle cx="583" cy="1559" r="5.5" fill="#3434ff"/>
<circle cx="583" cy="1663" r="5.5" fill="#3434ff"/>
<text x="597" y="1612" font-size="24" fill="#00e400" text-anchor="middle" transform="rotate(90 597 1612)" textLength="59" lengthAdjust="spacingAndGlyphs">1, 700</text>
<line x1="771" y1="1302" x2="771" y2="1354" stroke="#2626e6" stroke-width="3.2"/>
<circle cx="771" cy="1302" r="5.5" fill="#3434ff"/>
<circle cx="771" cy="1354" r="5.5" fill="#3434ff"/>
<text x="757" y="1328" font-size="20" fill="#00e400" text-anchor="middle" transform="rotate(-90 757 1328)" textLength="24.6" lengthAdjust="spacingAndGlyphs">840</text>
<line x1="771" y1="1403" x2="771" y2="1484" stroke="#2626e6" stroke-width="3.2"/>
<circle cx="771" cy="1403" r="5.5" fill="#3434ff"/>
<circle cx="771" cy="1484" r="5.5" fill="#3434ff"/>
<text x="757" y="1442" font-size="20" fill="#00e400" text-anchor="middle" transform="rotate(-90 757 1442)" textLength="49.2" lengthAdjust="spacingAndGlyphs">1, 300</text>
<line x1="1412" y1="1348" x2="1412" y2="1484" stroke="#2626e6" stroke-width="3.2"/>
<circle cx="1412" cy="1348" r="5.5" fill="#3434ff"/>
<circle cx="1412" cy="1484" r="5.5" fill="#3434ff"/>
<text x="1426" y="1415" font-size="22" fill="#00e400" text-anchor="middle" transform="rotate(90 1426 1415)" textLength="54.1" lengthAdjust="spacingAndGlyphs">2, 185</text>
<line x1="1412" y1="1559" x2="1412" y2="1670" stroke="#2626e6" stroke-width="3.2"/>
<circle cx="1412" cy="1559" r="5.5" fill="#3434ff"/>
<circle cx="1412" cy="1670" r="5.5" fill="#3434ff"/>
<text x="1398" y="1612" font-size="20" fill="#00e400" text-anchor="middle" transform="rotate(-90 1398 1612)" textLength="49.2" lengthAdjust="spacingAndGlyphs">1, 800</text>
<rect x="230" y="1355" width="52" height="48" fill="none" stroke="#8c8c8c" stroke-width="2"/>
<rect x="724" y="1355" width="54" height="48" fill="none" stroke="#8c8c8c" stroke-width="2"/>
<rect x="1217" y="1350" width="62" height="58" fill="none" stroke="#8c8c8c" stroke-width="2"/>
<rect x="1224" y="1581" width="12" height="69" fill="none" stroke="#8c8c8c" stroke-width="1.8"/>
<rect x="2243" y="1581" width="13" height="69" fill="none" stroke="#8c8c8c" stroke-width="1.8"/>
<rect x="27" y="1405" width="55" height="55" fill="none" stroke="#00e400" stroke-width="3.3"/>
<text x="35" y="1428.1" font-size="17" fill="#e8e8e8" text-anchor="start">P</text>
<text x="33" y="1449" font-size="17" fill="#e8e8e8" text-anchor="start" textLength="32.6" lengthAdjust="spacingAndGlyphs">9090</text>
<rect x="27" y="1460" width="55" height="57" fill="none" stroke="#00e400" stroke-width="3.3"/>
<text x="35" y="1483.9" font-size="17" fill="#e8e8e8" text-anchor="start">P</text>
<text x="33" y="1505.6" font-size="17" fill="#e8e8e8" text-anchor="start" textLength="32.6" lengthAdjust="spacingAndGlyphs">9090</text>
<rect x="82" y="1405" width="67" height="55" fill="none" stroke="#00e400" stroke-width="3.3"/>
<text x="90" y="1428.1" font-size="17" fill="#e8e8e8" text-anchor="start">P</text>
<text x="88" y="1449" font-size="17" fill="#e8e8e8" text-anchor="start" textLength="32.6" lengthAdjust="spacingAndGlyphs">1190</text>
<rect x="82" y="1460" width="67" height="57" fill="none" stroke="#00e400" stroke-width="3.3"/>
<text x="90" y="1483.9" font-size="17" fill="#e8e8e8" text-anchor="start">P</text>
<text x="88" y="1505.6" font-size="17" fill="#e8e8e8" text-anchor="start" textLength="32.6" lengthAdjust="spacingAndGlyphs">1190</text>
<rect x="149" y="1405" width="70" height="55" fill="none" stroke="#00e400" stroke-width="3.3"/>
<text x="157" y="1428.1" font-size="17" fill="#e8e8e8" text-anchor="start">P</text>
<text x="155" y="1449" font-size="17" fill="#e8e8e8" text-anchor="start" textLength="32.6" lengthAdjust="spacingAndGlyphs">1190</text>
<rect x="149" y="1460" width="70" height="57" fill="none" stroke="#00e400" stroke-width="3.3"/>
<text x="157" y="1483.9" font-size="17" fill="#e8e8e8" text-anchor="start">P</text>
<text x="155" y="1505.6" font-size="17" fill="#e8e8e8" text-anchor="start" textLength="32.6" lengthAdjust="spacingAndGlyphs">1190</text>
<rect x="223" y="1403" width="39" height="114" fill="none" stroke="#00e400" stroke-width="3.3"/>
<rect x="227" y="1407" width="31" height="106" fill="none" stroke="#00e400" stroke-width="2"/>
<text x="233" y="1483" font-size="17" fill="#e0e0e0" text-anchor="middle" transform="rotate(90 233 1483)" textLength="36.7" lengthAdjust="spacingAndGlyphs">D600</text>
<line x1="0" y1="1442" x2="28" y2="1442" stroke="#2626e6" stroke-width="2.5"/>
<circle cx="28" cy="1442" r="5.5" fill="#3434ff"/>
<line x1="262" y1="1484" x2="496" y2="1484" stroke="#2626e6" stroke-width="3.2"/>
<circle cx="262" cy="1484" r="5.5" fill="#3434ff"/>
<circle cx="496" cy="1484" r="5.5" fill="#3434ff"/>
<text x="377" y="1474" font-size="24" fill="#00e400" text-anchor="middle" textLength="59" lengthAdjust="spacingAndGlyphs">3, 775</text>
<rect x="496" y="1484" width="150" height="75" fill="none" stroke="#00e400" stroke-width="3.3"/>
<line x1="496" y1="1522" x2="646" y2="1522" stroke="#00e400" stroke-width="2"/>
<line x1="570" y1="1484" x2="570" y2="1559" stroke="#00e400" stroke-width="3.3"/>
<rect x="768" y="1484" width="151" height="75" fill="none" stroke="#00e400" stroke-width="3.3"/>
<line x1="768" y1="1522" x2="919" y2="1522" stroke="#00e400" stroke-width="2"/>
<line x1="844" y1="1484" x2="844" y2="1559" stroke="#00e400" stroke-width="3.3"/>
<rect x="1041" y="1484" width="151" height="75" fill="none" stroke="#00e400" stroke-width="3.3"/>
<line x1="1041" y1="1522" x2="1192" y2="1522" stroke="#00e400" stroke-width="2"/>
<line x1="1117" y1="1484" x2="1117" y2="1559" stroke="#00e400" stroke-width="3.3"/>
<rect x="1314" y="1484" width="152" height="75" fill="none" stroke="#00e400" stroke-width="3.3"/>
<line x1="1314" y1="1522" x2="1466" y2="1522" stroke="#00e400" stroke-width="2"/>
<line x1="1391" y1="1484" x2="1391" y2="1559" stroke="#00e400" stroke-width="3.3"/>
<rect x="1589" y="1484" width="150" height="75" fill="none" stroke="#00e400" stroke-width="3.3"/>
<line x1="1589" y1="1522" x2="1739" y2="1522" stroke="#00e400" stroke-width="2"/>
<line x1="1663" y1="1484" x2="1663" y2="1559" stroke="#00e400" stroke-width="3.3"/>
<rect x="1862" y="1484" width="150" height="75" fill="none" stroke="#00e400" stroke-width="3.3"/>
<line x1="1862" y1="1522" x2="2012" y2="1522" stroke="#00e400" stroke-width="2"/>
<line x1="1937" y1="1484" x2="1937" y2="1559" stroke="#00e400" stroke-width="3.3"/>
<rect x="2136" y="1484" width="165" height="75" fill="none" stroke="#00e400" stroke-width="3.3"/>
<line x1="2136" y1="1522" x2="2301" y2="1522" stroke="#00e400" stroke-width="2"/>
<line x1="2218" y1="1484" x2="2218" y2="1559" stroke="#00e400" stroke-width="3.3"/>
<line x1="646" y1="1522" x2="2136" y2="1522" stroke="#2626e6" stroke-width="2.5"/>
<circle cx="646" cy="1522" r="5.5" fill="#3434ff"/>
<circle cx="768" cy="1522" r="5.5" fill="#3434ff"/>
<circle cx="919" cy="1522" r="5.5" fill="#3434ff"/>
<circle cx="1041" cy="1522" r="5.5" fill="#3434ff"/>
<circle cx="1192" cy="1522" r="5.5" fill="#3434ff"/>
<circle cx="1314" cy="1522" r="5.5" fill="#3434ff"/>
<circle cx="1466" cy="1522" r="5.5" fill="#3434ff"/>
<circle cx="1589" cy="1522" r="5.5" fill="#3434ff"/>
<circle cx="1739" cy="1522" r="5.5" fill="#3434ff"/>
<circle cx="1862" cy="1522" r="5.5" fill="#3434ff"/>
<circle cx="2012" cy="1522" r="5.5" fill="#3434ff"/>
<circle cx="2136" cy="1522" r="5.5" fill="#3434ff"/>
<text x="707" y="1512" font-size="24" fill="#00e400" text-anchor="middle" textLength="59" lengthAdjust="spacingAndGlyphs">2, 008</text>
<text x="980" y="1512" font-size="24" fill="#00e400" text-anchor="middle" textLength="59" lengthAdjust="spacingAndGlyphs">2, 008</text>
<text x="1253" y="1512" font-size="24" fill="#00e400" text-anchor="middle" textLength="59" lengthAdjust="spacingAndGlyphs">2, 008</text>
<text x="1526" y="1512" font-size="24" fill="#00e400" text-anchor="middle" textLength="59" lengthAdjust="spacingAndGlyphs">2, 007</text>
<text x="1799" y="1512" font-size="24" fill="#00e400" text-anchor="middle" textLength="59" lengthAdjust="spacingAndGlyphs">2, 007</text>
<text x="2071" y="1512" font-size="24" fill="#00e400" text-anchor="middle" textLength="59" lengthAdjust="spacingAndGlyphs">2, 007</text>
<rect x="35" y="1634" width="3160" height="68" fill="#ffe3e3" stroke="none" stroke-width="0"/>
<path d="M40,1702 L40,1663 L752,1663 L752,1702" fill="none" stroke="#60e060" stroke-width="2.2"/>
<line x1="752" y1="1663" x2="3120" y2="1663" stroke="#f0a0e0" stroke-width="2.2" stroke-dasharray="3 4"/>
<line x1="760" y1="1670" x2="3195" y2="1670" stroke="#909090" stroke-width="2.2" stroke-dasharray="10 5"/>
<line x1="132" y1="1634" x2="132" y2="1663" stroke="#2626e6" stroke-width="2.5"/>
<circle cx="132" cy="1663" r="5.5" fill="#3434ff"/>
<line x1="583" y1="1634" x2="583" y2="1663" stroke="#2626e6" stroke-width="2.5"/>
<circle cx="583" cy="1663" r="5.5" fill="#3434ff"/>
<line x1="1412" y1="1634" x2="1412" y2="1670" stroke="#2626e6" stroke-width="2.5"/>
<circle cx="1412" cy="1670" r="5.5" fill="#3434ff"/>
<line x1="2746" y1="1634" x2="2746" y2="1663" stroke="#2626e6" stroke-width="2"/>
<line x1="2945" y1="1634" x2="2945" y2="1663" stroke="#2626e6" stroke-width="2"/>
<line x1="256" y1="1634" x2="256" y2="1702" stroke="#a0a0a0" stroke-width="2"/>
<line x1="751" y1="1634" x2="751" y2="1702" stroke="#a0a0a0" stroke-width="2"/>
<line x1="1248" y1="1634" x2="1248" y2="1702" stroke="#a0a0a0" stroke-width="2"/>
<line x1="1744" y1="1634" x2="1744" y2="1702" stroke="#a0a0a0" stroke-width="2"/>
<line x1="2237" y1="1634" x2="2237" y2="1702" stroke="#a0a0a0" stroke-width="2"/>
<line x1="2733" y1="1634" x2="2733" y2="1702" stroke="#a0a0a0" stroke-width="2"/>
<line x1="1248" y1="1670" x2="1188" y2="1702" stroke="#909090" stroke-width="1.8" stroke-dasharray="10 5"/>
<line x1="1248" y1="1670" x2="1308" y2="1702" stroke="#909090" stroke-width="1.8" stroke-dasharray="10 5"/>
<line x1="1744" y1="1670" x2="1684" y2="1702" stroke="#909090" stroke-width="1.8" stroke-dasharray="10 5"/>
<line x1="1744" y1="1670" x2="1804" y2="1702" stroke="#909090" stroke-width="1.8" stroke-dasharray="10 5"/>
<line x1="2237" y1="1670" x2="2187" y2="1702" stroke="#909090" stroke-width="1.8" stroke-dasharray="10 5"/>
<line x1="2237" y1="1670" x2="2287" y2="1702" stroke="#909090" stroke-width="1.8" stroke-dasharray="10 5"/>
<line x1="2733" y1="1670" x2="2678" y2="1702" stroke="#909090" stroke-width="1.8" stroke-dasharray="10 5"/>
<line x1="2733" y1="1670" x2="2788" y2="1702" stroke="#909090" stroke-width="1.8" stroke-dasharray="10 5"/>
<rect x="1224" y="1634" width="12" height="16" fill="none" stroke="#8c8c8c" stroke-width="1.8"/>
<rect x="2243" y="1634" width="13" height="16" fill="none" stroke="#8c8c8c" stroke-width="1.8"/>
<line x1="2212" y1="1634" x2="2212" y2="1702" stroke="#e040e0" stroke-width="2.5"/>
<line x1="2231" y1="1634" x2="2231" y2="1702" stroke="#e040e0" stroke-width="2.5"/>
<text x="2203" y="1722" font-size="36" fill="#909090" text-anchor="middle" textLength="40" lengthAdjust="spacingAndGlyphs" font-weight="bold">SS</text>
<text x="2032" y="1426" font-size="26" fill="#a00000" text-anchor="start" textLength="278" lengthAdjust="spacingAndGlyphs" font-weight="bold">レジ配置を変えています。</text>
<line x1="2015" y1="1403" x2="3022" y2="1403" stroke="#c8c8c8" stroke-width="2" stroke-dasharray="3 4"/>
<rect x="2440" y="1214" width="36" height="24" fill="none" stroke="#20d0d0" stroke-width="2.5"/>
<line x1="2440" y1="1214" x2="2476" y2="1238" stroke="#20d0d0" stroke-width="2.2"/>
<line x1="2440" y1="1238" x2="2476" y2="1214" stroke="#20d0d0" stroke-width="2.2"/>
<rect x="2440" y="1290" width="36" height="19" fill="none" stroke="#20d0d0" stroke-width="2.5"/>
<line x1="2440" y1="1290" x2="2476" y2="1309" stroke="#20d0d0" stroke-width="2.2"/>
<line x1="2440" y1="1309" x2="2476" y2="1290" stroke="#20d0d0" stroke-width="2.2"/>
<rect x="2440" y="1316" width="36" height="24" fill="none" stroke="#20d0d0" stroke-width="2.5"/>
<line x1="2440" y1="1316" x2="2476" y2="1340" stroke="#20d0d0" stroke-width="2.2"/>
<line x1="2440" y1="1340" x2="2476" y2="1316" stroke="#20d0d0" stroke-width="2.2"/>
<rect x="2440" y="1394" width="36" height="24" fill="none" stroke="#20d0d0" stroke-width="2.5"/>
<line x1="2440" y1="1394" x2="2476" y2="1418" stroke="#20d0d0" stroke-width="2.2"/>
<line x1="2440" y1="1418" x2="2476" y2="1394" stroke="#20d0d0" stroke-width="2.2"/>
<rect x="2440" y="1424" width="36" height="24" fill="none" stroke="#20d0d0" stroke-width="2.5"/>
<line x1="2440" y1="1424" x2="2476" y2="1448" stroke="#20d0d0" stroke-width="2.2"/>
<line x1="2440" y1="1448" x2="2476" y2="1424" stroke="#20d0d0" stroke-width="2.2"/>
<rect x="2440" y="1502" width="36" height="22" fill="none" stroke="#20d0d0" stroke-width="2.5"/>
<line x1="2440" y1="1502" x2="2476" y2="1524" stroke="#20d0d0" stroke-width="2.2"/>
<line x1="2440" y1="1524" x2="2476" y2="1502" stroke="#20d0d0" stroke-width="2.2"/>
<rect x="2438" y="1242" width="34" height="44" fill="none" stroke="#00e400" stroke-width="5"/>
<rect x="2448" y="1262" width="14" height="8" fill="none" stroke="#00e400" stroke-width="4"/>
<rect x="2428" y="1250" width="12" height="18" fill="#00a000" stroke="#00e400" stroke-width="3"/>
<rect x="2438" y="1344" width="34" height="46" fill="none" stroke="#00e400" stroke-width="5"/>
<rect x="2448" y="1364" width="14" height="10" fill="none" stroke="#00e400" stroke-width="4"/>
<rect x="2428" y="1352" width="12" height="18" fill="#00a000" stroke="#00e400" stroke-width="3"/>
<rect x="2438" y="1452" width="34" height="46" fill="none" stroke="#00e400" stroke-width="5"/>
<rect x="2448" y="1472" width="14" height="10" fill="none" stroke="#00e400" stroke-width="4"/>
<rect x="2428" y="1460" width="12" height="18" fill="#00a000" stroke="#00e400" stroke-width="3"/>
<rect x="2655" y="1214" width="35" height="24" fill="none" stroke="#20d0d0" stroke-width="2.5"/>
<line x1="2655" y1="1214" x2="2690" y2="1238" stroke="#20d0d0" stroke-width="2.2"/>
<line x1="2655" y1="1238" x2="2690" y2="1214" stroke="#20d0d0" stroke-width="2.2"/>
<rect x="2655" y="1290" width="35" height="19" fill="none" stroke="#20d0d0" stroke-width="2.5"/>
<line x1="2655" y1="1290" x2="2690" y2="1309" stroke="#20d0d0" stroke-width="2.2"/>
<line x1="2655" y1="1309" x2="2690" y2="1290" stroke="#20d0d0" stroke-width="2.2"/>
<rect x="2655" y="1316" width="35" height="24" fill="none" stroke="#20d0d0" stroke-width="2.5"/>
<line x1="2655" y1="1316" x2="2690" y2="1340" stroke="#20d0d0" stroke-width="2.2"/>
<line x1="2655" y1="1340" x2="2690" y2="1316" stroke="#20d0d0" stroke-width="2.2"/>
<rect x="2655" y="1394" width="35" height="24" fill="none" stroke="#20d0d0" stroke-width="2.5"/>
<line x1="2655" y1="1394" x2="2690" y2="1418" stroke="#20d0d0" stroke-width="2.2"/>
<line x1="2655" y1="1418" x2="2690" y2="1394" stroke="#20d0d0" stroke-width="2.2"/>
<rect x="2655" y="1424" width="35" height="24" fill="none" stroke="#20d0d0" stroke-width="2.5"/>
<line x1="2655" y1="1424" x2="2690" y2="1448" stroke="#20d0d0" stroke-width="2.2"/>
<line x1="2655" y1="1448" x2="2690" y2="1424" stroke="#20d0d0" stroke-width="2.2"/>
<rect x="2655" y="1502" width="35" height="22" fill="none" stroke="#20d0d0" stroke-width="2.5"/>
<line x1="2655" y1="1502" x2="2690" y2="1524" stroke="#20d0d0" stroke-width="2.2"/>
<line x1="2655" y1="1524" x2="2690" y2="1502" stroke="#20d0d0" stroke-width="2.2"/>
<rect x="2657" y="1242" width="33" height="44" fill="none" stroke="#00e400" stroke-width="5"/>
<rect x="2667" y="1262" width="13" height="8" fill="none" stroke="#00e400" stroke-width="4"/>
<rect x="2690" y="1250" width="16" height="18" fill="#00a000" stroke="#00e400" stroke-width="3"/>
<rect x="2657" y="1344" width="33" height="46" fill="none" stroke="#00e400" stroke-width="5"/>
<rect x="2667" y="1364" width="13" height="10" fill="none" stroke="#00e400" stroke-width="4"/>
<rect x="2690" y="1352" width="16" height="18" fill="#00a000" stroke="#00e400" stroke-width="3"/>
<rect x="2657" y="1452" width="33" height="46" fill="none" stroke="#00e400" stroke-width="5"/>
<rect x="2667" y="1472" width="13" height="10" fill="none" stroke="#00e400" stroke-width="4"/>
<rect x="2690" y="1460" width="16" height="18" fill="#00a000" stroke="#00e400" stroke-width="3"/>
<line x1="2429" y1="1214" x2="2429" y2="1524" stroke="#a858a8" stroke-width="2.5" stroke-dasharray="3 5"/>
<rect x="2427" y="1524" width="58" height="37" fill="none" stroke="#00e400" stroke-width="3.3"/>
<text x="2450" y="1577" font-size="14" fill="#20d0d0" text-anchor="middle" textLength="68" lengthAdjust="spacingAndGlyphs">ｶｰﾄ置き場</text>
<text x="2570" y="1365" font-size="12" fill="#20d0d0" text-anchor="middle" transform="rotate(90 2570 1365)" textLength="60" lengthAdjust="spacingAndGlyphs">ｶｰﾄ置場</text>
<line x1="2693" y1="1213" x2="2836" y2="1213" stroke="#a858a8" stroke-width="2.5" stroke-dasharray="3 5"/>
<line x1="2704" y1="1155" x2="2704" y2="1213" stroke="#a858a8" stroke-width="2.5" stroke-dasharray="3 5"/>
<rect x="2704.6" y="1244" width="54.7" height="53" fill="none" stroke="#00e400" stroke-width="3.3"/>
<text x="2732" y="1266" font-size="13" fill="#e0e0e0" text-anchor="middle" textLength="44" lengthAdjust="spacingAndGlyphs">ﾌﾞﾛｯｸ</text>
<text x="2732" y="1288" font-size="13" fill="#e0e0e0" text-anchor="middle" textLength="44" lengthAdjust="spacingAndGlyphs">ｽﾃｰｼﾞ</text>
<rect x="2704.6" y="1297" width="54.7" height="56.6" fill="none" stroke="#00e400" stroke-width="3.3"/>
<text x="2732" y="1319" font-size="13" fill="#e0e0e0" text-anchor="middle" textLength="44" lengthAdjust="spacingAndGlyphs">ﾌﾞﾛｯｸ</text>
<text x="2732" y="1341" font-size="13" fill="#e0e0e0" text-anchor="middle" textLength="44" lengthAdjust="spacingAndGlyphs">ｽﾃｰｼﾞ</text>
<rect x="2704.6" y="1405" width="54.7" height="56" fill="none" stroke="#00e400" stroke-width="3.3"/>
<text x="2732" y="1427" font-size="13" fill="#e0e0e0" text-anchor="middle" textLength="44" lengthAdjust="spacingAndGlyphs">ﾌﾞﾛｯｸ</text>
<text x="2732" y="1449" font-size="13" fill="#e0e0e0" text-anchor="middle" textLength="44" lengthAdjust="spacingAndGlyphs">ｽﾃｰｼﾞ</text>
<rect x="2704.6" y="1461" width="54.7" height="56.5" fill="none" stroke="#00e400" stroke-width="3.3"/>
<text x="2732" y="1483" font-size="13" fill="#e0e0e0" text-anchor="middle" textLength="44" lengthAdjust="spacingAndGlyphs">ﾌﾞﾛｯｸ</text>
<text x="2732" y="1505" font-size="13" fill="#e0e0e0" text-anchor="middle" textLength="44" lengthAdjust="spacingAndGlyphs">ｽﾃｰｼﾞ</text>
<rect x="2704.6" y="1517.5" width="54.7" height="56.5" fill="none" stroke="#00e400" stroke-width="3.3"/>
<text x="2732" y="1539.5" font-size="13" fill="#e0e0e0" text-anchor="middle" textLength="44" lengthAdjust="spacingAndGlyphs">ﾌﾞﾛｯｸ</text>
<text x="2732" y="1561.5" font-size="13" fill="#e0e0e0" text-anchor="middle" textLength="44" lengthAdjust="spacingAndGlyphs">ｽﾃｰｼﾞ</text>
<line x1="2746" y1="1574" x2="2746" y2="1634" stroke="#2626e6" stroke-width="2.5"/>
<circle cx="2746" cy="1574" r="5.5" fill="#3434ff"/>
<text x="2729" y="1610" font-size="18" fill="#00e400" text-anchor="middle" transform="rotate(-90 2729 1610)" textLength="44.3" lengthAdjust="spacingAndGlyphs">1, 480</text>
<rect x="2851" y="1212" width="68" height="56" fill="none" stroke="#00e400" stroke-width="3.3"/>
<text x="2859" y="1235.5" font-size="19" fill="#e8e8e8" text-anchor="start">P</text>
<text x="2857" y="1256.8" font-size="19" fill="#e8e8e8" text-anchor="start" textLength="36.5" lengthAdjust="spacingAndGlyphs">1190</text>
<rect x="2851" y="1268" width="68" height="54" fill="none" stroke="#00e400" stroke-width="3.3"/>
<text x="2859" y="1290.7" font-size="19" fill="#e8e8e8" text-anchor="start">P</text>
<text x="2857" y="1311.2" font-size="19" fill="#e8e8e8" text-anchor="start" textLength="36.5" lengthAdjust="spacingAndGlyphs">1190</text>
<rect x="2919" y="1212" width="69" height="56" fill="none" stroke="#00e400" stroke-width="3.3"/>
<text x="2927" y="1235.5" font-size="19" fill="#e8e8e8" text-anchor="start">P</text>
<text x="2925" y="1256.8" font-size="19" fill="#e8e8e8" text-anchor="start" textLength="36.5" lengthAdjust="spacingAndGlyphs">1190</text>
<rect x="2919" y="1268" width="69" height="54" fill="none" stroke="#00e400" stroke-width="3.3"/>
<text x="2927" y="1290.7" font-size="19" fill="#e8e8e8" text-anchor="start">P</text>
<text x="2925" y="1311.2" font-size="19" fill="#e8e8e8" text-anchor="start" textLength="36.5" lengthAdjust="spacingAndGlyphs">1190</text>
<rect x="2988" y="1212" width="69" height="56" fill="none" stroke="#00e400" stroke-width="3.3"/>
<text x="2996" y="1235.5" font-size="19" fill="#e8e8e8" text-anchor="start">P</text>
<text x="2994" y="1256.8" font-size="19" fill="#e8e8e8" text-anchor="start" textLength="36.5" lengthAdjust="spacingAndGlyphs">1190</text>
<rect x="2988" y="1268" width="69" height="54" fill="none" stroke="#00e400" stroke-width="3.3"/>
<text x="2996" y="1290.7" font-size="19" fill="#e8e8e8" text-anchor="start">P</text>
<text x="2994" y="1311.2" font-size="19" fill="#e8e8e8" text-anchor="start" textLength="36.5" lengthAdjust="spacingAndGlyphs">1190</text>
<line x1="3057" y1="1251" x2="3070" y2="1251" stroke="#2626e6" stroke-width="3.2"/>
<circle cx="3057" cy="1251" r="5.5" fill="#3434ff"/>
<circle cx="3070" cy="1251" r="5.5" fill="#3434ff"/>
<rect x="2851" y="1416" width="68" height="68" fill="none" stroke="#00e400" stroke-width="3.3"/>
<text x="2859" y="1444.6" font-size="21" fill="#e8e8e8" text-anchor="start">P</text>
<text x="2857" y="1470.4" font-size="21" fill="#e8e8e8" text-anchor="start" textLength="40.3" lengthAdjust="spacingAndGlyphs">1111</text>
<rect x="2919" y="1416" width="69" height="68" fill="none" stroke="#00e400" stroke-width="3.3"/>
<text x="2927" y="1444.6" font-size="21" fill="#e8e8e8" text-anchor="start">P</text>
<text x="2925" y="1470.4" font-size="21" fill="#e8e8e8" text-anchor="start" textLength="40.3" lengthAdjust="spacingAndGlyphs">1111</text>
<rect x="2988" y="1416" width="69" height="68" fill="none" stroke="#00e400" stroke-width="3.3"/>
<text x="2996" y="1444.6" font-size="21" fill="#e8e8e8" text-anchor="start">P</text>
<text x="2994" y="1470.4" font-size="21" fill="#e8e8e8" text-anchor="start" textLength="40.3" lengthAdjust="spacingAndGlyphs">1111</text>
<line x1="2945" y1="1322" x2="2945" y2="1416" stroke="#2626e6" stroke-width="2.5"/>
<circle cx="2945" cy="1322" r="5.5" fill="#3434ff"/>
<circle cx="2945" cy="1416" r="5.5" fill="#3434ff"/>
<text x="2960" y="1368" font-size="22" fill="#00e400" text-anchor="middle" transform="rotate(90 2960 1368)" textLength="54.1" lengthAdjust="spacingAndGlyphs">1, 500</text>
<line x1="2945" y1="1484" x2="2945" y2="1634" stroke="#2626e6" stroke-width="2.5"/>
<circle cx="2945" cy="1484" r="5.5" fill="#3434ff"/>
<text x="2960" y="1580" font-size="22" fill="#00e400" text-anchor="middle" transform="rotate(90 2960 1580)" textLength="54.1" lengthAdjust="spacingAndGlyphs">2, 900</text>
<rect x="3630" y="1597" width="770" height="68" fill="none" stroke="#8a8a8a" stroke-width="2.2"/>
<line x1="3785" y1="1597" x2="3785" y2="1665" stroke="#8a8a8a" stroke-width="2.2"/>
<line x1="3937" y1="1597" x2="3937" y2="1665" stroke="#8a8a8a" stroke-width="2.2"/>
<line x1="4163" y1="1597" x2="4163" y2="1665" stroke="#8a8a8a" stroke-width="2.2"/>
<line x1="4391" y1="1597" x2="4391" y2="1665" stroke="#8a8a8a" stroke-width="2.2"/>
<circle cx="3648" cy="1618" r="13" fill="none" stroke="#b4b4b4" stroke-width="1.5"/>
<text x="3708" y="1617" font-size="11" fill="#9a9a9a" text-anchor="middle" textLength="36.1" lengthAdjust="spacingAndGlyphs">1340/850</text>
<text x="3713" y="1658" font-size="12" fill="#9a9a9a" text-anchor="middle" textLength="59" lengthAdjust="spacingAndGlyphs">NCS-CEX96DVR</text>
<circle cx="3803" cy="1618" r="13" fill="none" stroke="#b4b4b4" stroke-width="1.5"/>
<text x="3863" y="1617" font-size="11" fill="#9a9a9a" text-anchor="middle" textLength="36.1" lengthAdjust="spacingAndGlyphs">1340/850</text>
<text x="3868" y="1658" font-size="12" fill="#9a9a9a" text-anchor="middle" textLength="59" lengthAdjust="spacingAndGlyphs">NCS-CEX96DVR</text>
<circle cx="3965" cy="1618" r="13" fill="none" stroke="#b4b4b4" stroke-width="1.5"/>
<text x="4025" y="1617" font-size="11" fill="#9a9a9a" text-anchor="middle" textLength="36.1" lengthAdjust="spacingAndGlyphs">1340/850</text>
<text x="4030" y="1658" font-size="12" fill="#9a9a9a" text-anchor="middle" textLength="59" lengthAdjust="spacingAndGlyphs">NCS-CEX96DVR</text>
<circle cx="4185" cy="1618" r="13" fill="none" stroke="#b4b4b4" stroke-width="1.5"/>
<text x="4245" y="1617" font-size="11" fill="#9a9a9a" text-anchor="middle" textLength="36.1" lengthAdjust="spacingAndGlyphs">1340/850</text>
<text x="4250" y="1658" font-size="12" fill="#9a9a9a" text-anchor="middle" textLength="59" lengthAdjust="spacingAndGlyphs">NCS-CEX96DVR</text>
<text x="3768" y="1626" font-size="16" fill="#9a9a9a" text-anchor="middle">8</text>
<text x="3922" y="1626" font-size="16" fill="#9a9a9a" text-anchor="middle">8</text>
<text x="4148" y="1626" font-size="16" fill="#9a9a9a" text-anchor="middle" textLength="13.1" lengthAdjust="spacingAndGlyphs">12</text>
<text x="4372" y="1626" font-size="16" fill="#9a9a9a" text-anchor="middle" textLength="13.1" lengthAdjust="spacingAndGlyphs">12</text>
<rect x="3630" y="1676" width="748" height="41" fill="none" stroke="#00e400" stroke-width="3.3"/>
<rect x="3634" y="1680" width="70" height="33" fill="none" stroke="#00e400" stroke-width="2"/>
<line x1="3704.8" y1="1676" x2="3704.8" y2="1717" stroke="#00e400" stroke-width="3.3"/>
<line x1="3779.6" y1="1676" x2="3779.6" y2="1717" stroke="#00e400" stroke-width="3.3"/>
<line x1="3854.4" y1="1676" x2="3854.4" y2="1717" stroke="#00e400" stroke-width="3.3"/>
<line x1="3929.2" y1="1676" x2="3929.2" y2="1717" stroke="#00e400" stroke-width="3.3"/>
<line x1="4004" y1="1676" x2="4004" y2="1717" stroke="#00e400" stroke-width="3.3"/>
<line x1="4078.8" y1="1676" x2="4078.8" y2="1717" stroke="#00e400" stroke-width="3.3"/>
<line x1="4153.6" y1="1676" x2="4153.6" y2="1717" stroke="#00e400" stroke-width="3.3"/>
<line x1="4228.4" y1="1676" x2="4228.4" y2="1717" stroke="#00e400" stroke-width="3.3"/>
<line x1="4303.2" y1="1676" x2="4303.2" y2="1717" stroke="#00e400" stroke-width="3.3"/>
<text x="3667" y="1706" font-size="19" fill="#e0e0e0" text-anchor="middle" textLength="41" lengthAdjust="spacingAndGlyphs">D600</text>
<text x="3955" y="1768" font-size="46" fill="#9c9c9c" text-anchor="middle" textLength="176" lengthAdjust="spacingAndGlyphs">風除室３</text>
<path d="M3715,1610 A58,58 0 0 1 3726.6,1735" fill="none" stroke="#8a8a8a" stroke-width="1.6"/>
<path d="M3815,1610 A58,58 0 0 0 3803.4,1735" fill="none" stroke="#8a8a8a" stroke-width="1.6"/>
<path d="M4150,1610 A60,60 0 0 0 4138,1735" fill="none" stroke="#8a8a8a" stroke-width="1.6"/>
<line x1="3600" y1="1670" x2="3630" y2="1670" stroke="#8a8a8a" stroke-width="2"/>
<line x1="3420" y1="1665" x2="3495" y2="1665" stroke="#8a8a8a" stroke-width="2"/>
<line x1="3200" y1="1665" x2="3495" y2="1665" stroke="#8a8a8a" stroke-width="1.8"/>
<line x1="3290" y1="1670" x2="3290" y2="1690" stroke="#8a8a8a" stroke-width="1.8"/>
<line x1="3290" y1="1690" x2="3425" y2="1690" stroke="#8a8a8a" stroke-width="1.8"/>
<line x1="3425" y1="1670" x2="3425" y2="1890" stroke="#8a8a8a" stroke-width="1.8"/>
<line x1="3480" y1="1680" x2="3610" y2="1680" stroke="#8a8a8a" stroke-width="1.8"/>
<path d="M3545,1675 L3530,1715 M3545,1675 L3562,1715" fill="none" stroke="#b4b4b4" stroke-width="1.6"/>
<path d="M3213,1625 A42,42 0 0 1 3213,1710" fill="none" stroke="#8a8a8a" stroke-width="1.8"/>
<line x1="3213" y1="1625" x2="3213" y2="1890" stroke="#8a8a8a" stroke-width="1.8"/>
<line x1="3204" y1="1665" x2="3204" y2="1890" stroke="#8a8a8a" stroke-width="1.8"/>
<line x1="3204" y1="1755" x2="3290" y2="1755" stroke="#8a8a8a" stroke-width="1.6"/>
<line x1="3250" y1="1755" x2="3250" y2="1850" stroke="#8a8a8a" stroke-width="1.6"/>
<path d="M3297,1757 A45,45 0 0 1 3262,1800 M3262,1800 A45,45 0 0 1 3290,1850" fill="none" stroke="#8a8a8a" stroke-width="1.6"/>
<rect x="3255" y="1850" width="73" height="35" fill="none" stroke="#8a8a8a" stroke-width="1.6"/>
<line x1="3255" y1="1850" x2="3328" y2="1885" stroke="#8a8a8a" stroke-width="1.4"/>
<line x1="3255" y1="1885" x2="3328" y2="1850" stroke="#8a8a8a" stroke-width="1.4"/>
<line x1="3200" y1="1884" x2="4400" y2="1884" stroke="#8a8a8a" stroke-width="1.8"/>
<line x1="3200" y1="1893" x2="3440" y2="1893" stroke="#8a8a8a" stroke-width="1.8"/>
<line x1="3436" y1="1827" x2="3436" y2="1958" stroke="#8a8a8a" stroke-width="1.6"/>
<path d="M3436,1827 A65,65.5 0 0 1 3436,1958" fill="none" stroke="#8a8a8a" stroke-width="1.6"/>
<line x1="3570" y1="1827" x2="3570" y2="1958" stroke="#8a8a8a" stroke-width="1.6"/>
<path d="M3570,1827 A65,65.5 0 0 0 3570,1958" fill="none" stroke="#8a8a8a" stroke-width="1.6"/>
<path d="M3570,1827 A65,65.5 0 0 1 3570,1958" fill="none" stroke="#8a8a8a" stroke-width="1.6"/>
<line x1="3701" y1="1827" x2="3701" y2="1958" stroke="#8a8a8a" stroke-width="1.6"/>
<path d="M3701,1827 A65,65.5 0 0 0 3701,1958" fill="none" stroke="#8a8a8a" stroke-width="1.6"/>
<line x1="3754" y1="1827" x2="3754" y2="1958" stroke="#8a8a8a" stroke-width="1.6"/>
<path d="M3754,1827 A65,65.5 0 0 1 3754,1958" fill="none" stroke="#8a8a8a" stroke-width="1.6"/>
<line x1="3887" y1="1827" x2="3887" y2="1958" stroke="#8a8a8a" stroke-width="1.6"/>
<path d="M3887,1827 A65,65.5 0 0 0 3887,1958" fill="none" stroke="#8a8a8a" stroke-width="1.6"/>
<path d="M3887,1827 A65,65.5 0 0 1 3887,1958" fill="none" stroke="#8a8a8a" stroke-width="1.6"/>
<line x1="4023" y1="1827" x2="4023" y2="1958" stroke="#8a8a8a" stroke-width="1.6"/>
<path d="M4023,1827 A65,65.5 0 0 0 4023,1958" fill="none" stroke="#8a8a8a" stroke-width="1.6"/>
<path d="M4023,1827 A65,65.5 0 0 1 4023,1958" fill="none" stroke="#8a8a8a" stroke-width="1.6"/>
<line x1="4159" y1="1827" x2="4159" y2="1958" stroke="#8a8a8a" stroke-width="1.6"/>
<path d="M4159,1827 A65,65.5 0 0 0 4159,1958" fill="none" stroke="#8a8a8a" stroke-width="1.6"/>
<line x1="4285" y1="1827" x2="4285" y2="1958" stroke="#8a8a8a" stroke-width="1.6"/>
<path d="M4285,1827 A65,65.5 0 0 1 4285,1958" fill="none" stroke="#8a8a8a" stroke-width="1.6"/>
<line x1="4420" y1="1827" x2="4420" y2="1958" stroke="#8a8a8a" stroke-width="1.6"/>
<path d="M4420,1827 A65,65.5 0 0 0 4420,1958" fill="none" stroke="#8a8a8a" stroke-width="1.6"/>
<rect x="3703" y="1849" width="49" height="54" fill="none" stroke="#8a8a8a" stroke-width="1.6"/>
<rect x="4198" y="1849" width="49" height="54" fill="none" stroke="#8a8a8a" stroke-width="1.6"/>
<line x1="3203" y1="1887" x2="3434" y2="1887" stroke="#8a8a8a" stroke-width="1.6"/>
<line x1="3203" y1="1900" x2="3434" y2="1900" stroke="#8a8a8a" stroke-width="1.6"/>
<line x1="4163" y1="1665" x2="4400" y2="1790" stroke="#8a8a8a" stroke-width="1.6"/>
<line x1="4200" y1="1895" x2="4400" y2="1800" stroke="#8a8a8a" stroke-width="1.6"/>
<line x1="4200" y1="1690" x2="4200" y2="1895" stroke="#8a8a8a" stroke-width="1.6" stroke-dasharray="8 5"/>
<text x="4385" y="1775" font-size="30" fill="#9c9c9c" text-anchor="start">外</text>
<text x="4385" y="1830" font-size="30" fill="#9c9c9c" text-anchor="start">ガ</text>
<line x1="0" y1="2091" x2="750" y2="2091" stroke="#8a8a8a" stroke-width="2.2"/>
<line x1="0" y1="2241" x2="1030" y2="2241" stroke="#8a8a8a" stroke-width="2.2"/>
<line x1="1030" y1="2241" x2="1223" y2="2122" stroke="#8a8a8a" stroke-width="2.2"/>
<line x1="1223" y1="2122" x2="4400" y2="2122" stroke="#8a8a8a" stroke-width="2.2"/>
<line x1="1482" y1="2115" x2="3437" y2="2115" stroke="#b4b4b4" stroke-width="1.8" stroke-dasharray="10 5"/>
<line x1="1482" y1="1901" x2="1482" y2="2115" stroke="#b4b4b4" stroke-width="1.8" stroke-dasharray="10 5"/>
<line x1="3437" y1="1958" x2="3437" y2="2115" stroke="#b4b4b4" stroke-width="1.8" stroke-dasharray="10 5"/>
<line x1="3300" y1="2116" x2="3437" y2="2116" stroke="#b4b4b4" stroke-width="1.8" stroke-dasharray="10 5"/>
<line x1="1277" y1="1901" x2="1277" y2="2271" stroke="#b4b4b4" stroke-width="2" stroke-dasharray="6 5"/>
<line x1="0" y1="2269" x2="1300" y2="2269" stroke="#d0d0d0" stroke-width="2" stroke-dasharray="8 5"/>
<line x1="254" y1="2091" x2="663" y2="1901" stroke="#b4b4b4" stroke-width="1.6" stroke-dasharray="12 4 3 4"/>
<line x1="348" y1="1906" x2="750" y2="2091" stroke="#b4b4b4" stroke-width="1.6" stroke-dasharray="12 4 3 4"/>
<circle cx="254" cy="2091" r="9" fill="none" stroke="#b4b4b4" stroke-width="1.6"/>
<circle cx="750" cy="2091" r="9" fill="none" stroke="#b4b4b4" stroke-width="1.6"/>
<circle cx="1247" cy="2091" r="9" fill="none" stroke="#b4b4b4" stroke-width="1.6"/>
<rect x="264" y="2088" width="184" height="6" fill="none" stroke="#8a8a8a" stroke-width="1.6"/>
<rect x="558" y="2088" width="184" height="6" fill="none" stroke="#8a8a8a" stroke-width="1.6"/>
<line x1="234" y1="1901" x2="234" y2="1945" stroke="#8a8a8a" stroke-width="4"/>
<line x1="234" y1="2006" x2="234" y2="2091" stroke="#8a8a8a" stroke-width="4"/>
<text x="385" y="1980" font-size="32" fill="#c8c8c8" text-anchor="middle" textLength="92" lengthAdjust="spacingAndGlyphs">自転車</text>
<text x="480" y="1982" font-size="22" fill="#707070" text-anchor="middle" textLength="46" lengthAdjust="spacingAndGlyphs">売場</text>
<text x="323" y="1912" font-size="15" fill="#c0c0c0" text-anchor="middle" textLength="24.6" lengthAdjust="spacingAndGlyphs">W900</text>
<rect x="0" y="2046" width="231" height="41" fill="none" stroke="#00e400" stroke-width="3"/>
<line x1="80" y1="2046" x2="80" y2="2087" stroke="#00e400" stroke-width="3.3"/>
<line x1="156" y1="2046" x2="156" y2="2087" stroke="#00e400" stroke-width="3.3"/>
<line x1="6" y1="2046" x2="6" y2="2087" stroke="#00e400" stroke-width="3.3"/>
<rect x="24" y="1894" width="207" height="14" fill="none" stroke="#00e400" stroke-width="3"/>
<text x="2252" y="2033" font-size="44" fill="#8c8c8c" text-anchor="middle" textLength="268" lengthAdjust="spacingAndGlyphs">自転車置き場</text>
<rect x="965" y="1901" width="252" height="133" fill="none" stroke="#8a8a8a" stroke-width="1.8"/>
<rect x="972" y="1901" width="238" height="126" fill="none" stroke="#8a8a8a" stroke-width="1.6"/>
<line x1="1034" y1="1901" x2="1034" y2="2027" stroke="#8a8a8a" stroke-width="1.5"/>
<line x1="1052.5" y1="1901" x2="1052.5" y2="2027" stroke="#8a8a8a" stroke-width="1.5"/>
<line x1="1071" y1="1901" x2="1071" y2="2027" stroke="#8a8a8a" stroke-width="1.5"/>
<line x1="1089.5" y1="1901" x2="1089.5" y2="2027" stroke="#8a8a8a" stroke-width="1.5"/>
<line x1="1108" y1="1901" x2="1108" y2="2027" stroke="#8a8a8a" stroke-width="1.5"/>
<line x1="1126.5" y1="1901" x2="1126.5" y2="2027" stroke="#8a8a8a" stroke-width="1.5"/>
<line x1="1145" y1="1901" x2="1145" y2="2027" stroke="#8a8a8a" stroke-width="1.5"/>
<line x1="1163.5" y1="1901" x2="1163.5" y2="1962" stroke="#8a8a8a" stroke-width="1.5"/>
<line x1="1182" y1="1901" x2="1182" y2="1962" stroke="#8a8a8a" stroke-width="1.5"/>
<rect x="1030" y="1960" width="186" height="6" fill="none" stroke="#8a8a8a" stroke-width="1.5"/>
<line x1="998" y1="1930" x2="1034" y2="1930" stroke="#8a8a8a" stroke-width="1.5"/>
<line x1="998" y1="1930" x2="998" y2="1995" stroke="#8a8a8a" stroke-width="1.5"/>
<line x1="998" y1="1995" x2="1056" y2="1995" stroke="#8a8a8a" stroke-width="1.5"/>
<line x1="1110" y1="1962" x2="1180" y2="2032" stroke="#8a8a8a" stroke-width="1.6"/>
<text x="1234" y="1934" font-size="46" fill="#9a9a9a" text-anchor="middle" textLength="54" lengthAdjust="spacingAndGlyphs">UP</text>
<rect x="3713" y="2098" width="27" height="23" fill="none" stroke="#8a8a8a" stroke-width="1.6"/>
<rect x="4207" y="2098" width="28" height="23" fill="none" stroke="#8a8a8a" stroke-width="1.6"/>
<line x1="3725" y1="2008" x2="3725" y2="2271" stroke="#8a8a8a" stroke-width="1.6"/>
<line x1="4222" y1="1958" x2="4222" y2="2271" stroke="#8a8a8a" stroke-width="1.6"/>
<line x1="2735" y1="1901" x2="2735" y2="2271" stroke="#8a8a8a" stroke-width="1.4"/>
</g></g>
<g class="ov">
<rect x="3177" y="1707.6" width="19" height="187.7" fill="#80ffff"/>
<rect x="2205" y="1709" width="23" height="184" fill="#80ffff"/>
<rect x="2207" y="1709" width="2" height="140" fill="#e040e0"/><rect x="2227" y="1709" width="2" height="140" fill="#e040e0"/>
<rect x="3.5" y="12.5" width="1479" height="144" fill="#fff" stroke="#000" stroke-width="5"/>
<text x="52" y="118" font-size="90" fill="#000" text-anchor="start" textLength="365" lengthAdjust="spacingAndGlyphs" font-weight="bold" stroke="#000" stroke-width="0.9">トライアル</text>
<text x="427" y="118" font-size="90" fill="#000" text-anchor="start" textLength="360" lengthAdjust="spacingAndGlyphs" font-weight="bold" stroke="#000" stroke-width="0.9">宇都宮店</text>
<text x="869" y="118" font-size="90" fill="#000" text-anchor="start" textLength="52" lengthAdjust="spacingAndGlyphs" font-weight="bold" stroke="#000" stroke-width="0.9">１</text>
<text x="950" y="118" font-size="90" fill="#000" text-anchor="start" textLength="52" lengthAdjust="spacingAndGlyphs" font-weight="bold" stroke="#000" stroke-width="0.9">F</text>
<text x="1063" y="118" font-size="90" fill="#000" text-anchor="start" textLength="361" lengthAdjust="spacingAndGlyphs" font-weight="bold" stroke="#000" stroke-width="0.9">催事区画</text>
<rect x="1275" y="454" width="399" height="206" fill="#fff" stroke="none" stroke-width="0"/>
<text x="1469" y="538" font-size="70" fill="#000" text-anchor="middle" textLength="306" lengthAdjust="spacingAndGlyphs" font-weight="bold" stroke="#000" stroke-width="0.7">トライアル</text>
<text x="1474" y="626" font-size="70" fill="#000" text-anchor="middle" textLength="193" lengthAdjust="spacingAndGlyphs" font-weight="bold" stroke="#000" stroke-width="0.7">売り場</text>
<rect x="3578" y="990" width="399" height="206" fill="#fff" stroke="none" stroke-width="0"/>
<text x="3772" y="1074" font-size="70" fill="#000" text-anchor="middle" textLength="306" lengthAdjust="spacingAndGlyphs" font-weight="bold" stroke="#000" stroke-width="0.7">トライアル</text>
<text x="3777" y="1162" font-size="70" fill="#000" text-anchor="middle" textLength="193" lengthAdjust="spacingAndGlyphs" font-weight="bold" stroke="#000" stroke-width="0.7">売り場</text>
<rect x="2606" y="472" width="346" height="206" fill="#fff" stroke="none" stroke-width="0"/>
<text x="2779" y="558" font-size="70" fill="#000" text-anchor="middle" textLength="254" lengthAdjust="spacingAndGlyphs" font-weight="bold" stroke="#000" stroke-width="0.7">スロープ</text>
<path d="M2689,586 L2715,618 L2702,618 L2702,650 L2676,650 L2676,618 L2663,618 Z" fill="#fff" stroke="#000" stroke-width="4"/>
<text x="2729" y="645" font-size="70" fill="#000" text-anchor="start" textLength="70" lengthAdjust="spacingAndGlyphs" font-weight="bold" stroke="#000" stroke-width="0.7">２</text>
<text x="2800" y="645" font-size="70" fill="#000" text-anchor="start" textLength="38" lengthAdjust="spacingAndGlyphs" font-weight="bold" stroke="#000" stroke-width="0.7">F</text>
<text x="2842" y="645" font-size="70" fill="#000" text-anchor="start" textLength="62" lengthAdjust="spacingAndGlyphs" font-weight="bold" stroke="#000" stroke-width="0.7">へ</text>
<rect x="833" y="1361" width="347" height="118" fill="#fff" stroke="none" stroke-width="0"/>
<text x="1001" y="1449" font-size="68" fill="#000" text-anchor="middle" textLength="124" lengthAdjust="spacingAndGlyphs" font-weight="bold" stroke="#000" stroke-width="0.7">レジ</text>
<rect x="1662" y="1361" width="347" height="118" fill="#fff" stroke="none" stroke-width="0"/>
<text x="1830" y="1449" font-size="68" fill="#000" text-anchor="middle" textLength="124" lengthAdjust="spacingAndGlyphs" font-weight="bold" stroke="#000" stroke-width="0.7">レジ</text>
<rect x="3327" y="1723" width="259" height="105" fill="#fff" stroke="none" stroke-width="0"/>
<text x="3454" y="1799" font-size="62" fill="#000" text-anchor="middle" textLength="198" lengthAdjust="spacingAndGlyphs" font-weight="bold" stroke="#000" stroke-width="0.6">出入口</text>
<rect x="712.8" y="1703.9" width="325.9" height="190.7" fill="#fff" stroke="#1c6088" stroke-width="10"/>
<rect x="1038.7" y="1703.9" width="452.3" height="190.7" fill="#fff" stroke="#1c6088" stroke-width="10"/>
<rect x="21.3" y="1704.3" width="692" height="191.3" fill="#c9edfb" stroke="#000" stroke-width="6.7"/>
<text x="378" y="1827" font-size="74" fill="#000" text-anchor="middle" textLength="540" lengthAdjust="spacingAndGlyphs" font-weight="bold" stroke="#000" stroke-width="0.7">イートインスペース</text>
<text x="877" y="1756" font-size="46" fill="#000" text-anchor="middle" textLength="238" lengthAdjust="spacingAndGlyphs" font-weight="bold" stroke="#000" stroke-width="0.5">（テナント）</text>
<text x="877" y="1816" font-size="48" fill="#000" text-anchor="middle" textLength="202" lengthAdjust="spacingAndGlyphs" font-weight="bold" stroke="#000" stroke-width="0.5">さくら保険</text>
<text x="876" y="1875" font-size="48" fill="#000" text-anchor="middle" textLength="150" lengthAdjust="spacingAndGlyphs" font-weight="bold" stroke="#000" stroke-width="0.5">事務所</text>
<text x="1253" y="1779" font-size="46" fill="#000" text-anchor="middle" textLength="238" lengthAdjust="spacingAndGlyphs" font-weight="bold" stroke="#000" stroke-width="0.5">（テナント）</text>
<text x="1252" y="1839" font-size="48" fill="#000" text-anchor="middle" textLength="258" lengthAdjust="spacingAndGlyphs" font-weight="bold" stroke="#000" stroke-width="0.5">おしゃれ工房</text>
<rect x="1501" y="1703.9" width="343.9" height="190.7" fill="#ffff00" stroke="#ff0000" stroke-width="10"/>
<rect x="1854.9" y="1703.9" width="344.6" height="190.7" fill="#ffff00" stroke="#ff0000" stroke-width="10"/>
<text x="1682" y="1854" font-size="157" fill="#000" text-anchor="middle" textLength="98.3" lengthAdjust="spacingAndGlyphs" style="text-shadow:3px 3px 4px rgba(0,0,0,.35)">A</text>
<text x="2014" y="1854" font-size="157" fill="#000" text-anchor="middle" textLength="100.6" lengthAdjust="spacingAndGlyphs" style="text-shadow:3px 3px 4px rgba(0,0,0,.35)">B</text>
<rect x="2242.2" y="1703.9" width="325.8" height="190.7" fill="#fff" stroke="#1c6088" stroke-width="10"/>
<text x="2405" y="1782" font-size="46" fill="#000" text-anchor="middle" textLength="228" lengthAdjust="spacingAndGlyphs" font-weight="bold" stroke="#000" stroke-width="0.5">（テナント）</text>
<text x="2405" y="1841" font-size="48" fill="#000" text-anchor="middle" textLength="268" lengthAdjust="spacingAndGlyphs" font-weight="bold" stroke="#000" stroke-width="0.5">はちまん餃子</text>
<rect x="2577.5" y="1703.9" width="325.3" height="190.7" fill="#ffff00" stroke="#ff0000" stroke-width="9.6"/>
<text x="2745" y="1829" font-size="74" fill="#000" text-anchor="middle" textLength="299" lengthAdjust="spacingAndGlyphs" style="text-shadow:2px 2px 3px rgba(0,0,0,.3)">サービス横</text>
<rect x="2911" y="1704.3" width="262.6" height="191.3" fill="#c9edfb" stroke="#000" stroke-width="6.7"/>
<text x="3044" y="1784" font-size="48" fill="#000" text-anchor="middle" textLength="165" lengthAdjust="spacingAndGlyphs" font-weight="bold" stroke="#000" stroke-width="0.5">サービス</text>
<text x="3043" y="1845" font-size="48" fill="#000" text-anchor="middle" textLength="163" lengthAdjust="spacingAndGlyphs" font-weight="bold" stroke="#000" stroke-width="0.5">カウンタ</text>
<rect x="3028" y="467" width="875" height="225" rx="0" fill="#000"/>
<rect x="3042" y="481" width="847" height="197" fill="#dde9f7" stroke="none" stroke-width="0"/>
<text x="3466" y="573" font-size="84" fill="#000" text-anchor="middle" textLength="645" lengthAdjust="spacingAndGlyphs" font-weight="bold" stroke="#000" stroke-width="0.8">スロープ横スペース</text>
<text x="3466" y="652" font-size="62" fill="#000" text-anchor="middle" textLength="801" lengthAdjust="spacingAndGlyphs" font-weight="bold" stroke="#000" stroke-width="0.6">（間口2.5m×奥行5.5m）</text>
<rect x="1055" y="952" width="810" height="225" rx="0" fill="#000"/>
<rect x="1069" y="966" width="782" height="197" fill="#dde9f7" stroke="none" stroke-width="0"/>
<text x="1455" y="1057" font-size="80" fill="#000" text-anchor="middle" textLength="569" lengthAdjust="spacingAndGlyphs" font-weight="bold" stroke="#000" stroke-width="0.8">レジアウト半面A</text>
<text x="1460" y="1139" font-size="62" fill="#000" text-anchor="middle" textLength="737" lengthAdjust="spacingAndGlyphs" font-weight="bold" stroke="#000" stroke-width="0.6">（幅5.3m×奥行3.4m）</text>
<rect x="1869" y="990" width="810" height="224" rx="0" fill="#000"/>
<rect x="1883" y="1004" width="782" height="196" fill="#dde9f7" stroke="none" stroke-width="0"/>
<text x="2269" y="1095" font-size="80" fill="#000" text-anchor="middle" textLength="569" lengthAdjust="spacingAndGlyphs" font-weight="bold" stroke="#000" stroke-width="0.8">レジアウト半面B</text>
<text x="2274" y="1177" font-size="62" fill="#000" text-anchor="middle" textLength="737" lengthAdjust="spacingAndGlyphs" font-weight="bold" stroke="#000" stroke-width="0.6">（幅5.3m×奥行3.4m）</text>
<rect x="2362" y="2205" width="768" height="224" rx="8" fill="#000"/>
<rect x="2376" y="2219" width="740" height="196" fill="#dde9f7" stroke="none" stroke-width="0"/>
<text x="2747" y="2312" font-size="84" fill="#000" text-anchor="middle" textLength="685" lengthAdjust="spacingAndGlyphs" font-weight="bold" stroke="#000" stroke-width="0.8">サービスカウンター横</text>
<text x="2744" y="2392" font-size="62" fill="#000" text-anchor="middle" textLength="606" lengthAdjust="spacingAndGlyphs" font-weight="bold" stroke="#000" stroke-width="0.6">（幅5m×奥行3m）</text>
<rect x="3344" y="2198" width="960" height="225" rx="8" fill="#000"/>
<rect x="3358" y="2212" width="932" height="197" fill="#dde9f7" stroke="none" stroke-width="0"/>
<text x="3825" y="2305" font-size="84" fill="#000" text-anchor="middle" textLength="870" lengthAdjust="spacingAndGlyphs" font-weight="bold" stroke="#000" stroke-width="0.8">西側入口イベントスペース</text>
<text x="3818" y="2386" font-size="62" fill="#000" text-anchor="middle" textLength="858" lengthAdjust="spacingAndGlyphs" font-weight="bold" stroke="#000" stroke-width="0.6">（幅6m×奥行1.5m）※屋外</text>
<polygon points="2874.2,740.7 2993,740.7 2993,902 3035.5,902 3035.5,1059 2874.2,1059" fill="#ffff00" stroke="#ff0000" stroke-width="10"/>
<rect x="3040" y="917" width="11" height="145" fill="#f08080" stroke="none" stroke-width="0"/>
<rect x="3705" y="1912" width="370.5" height="91.5" fill="#ffff00" stroke="#ff0000" stroke-width="10"/>
<line x1="3466" y1="684" x2="3078.2" y2="878.7" stroke="#ff0000" stroke-width="10"/>
<polygon points="3040.7,897.5 3070.6,859 3089.4,896.5" fill="#ff0000"/>
<line x1="1461" y1="1175" x2="1655.9" y2="1660" stroke="#ff0000" stroke-width="10"/>
<polygon points="1671.6,1699 1635.7,1666 1674.7,1650.3" fill="#ff0000"/>
<line x1="2274" y1="1212" x2="2047.9" y2="1661.5" stroke="#ff0000" stroke-width="10"/>
<polygon points="2029,1699 2030,1650.3 2067.5,1669.1" fill="#ff0000"/>
<line x1="2746" y1="2208" x2="2741.7" y2="1942" stroke="#ff0000" stroke-width="10"/>
<polygon points="2741,1900 2762.7,1943.7 2720.7,1944.3" fill="#ff0000"/>
<line x1="3825" y1="2200" x2="3877.3" y2="2048.7" stroke="#ff0000" stroke-width="10"/>
<polygon points="3891,2009 3896.5,2057.4 3856.8,2043.7" fill="#ff0000"/>
</g>
</svg>
</body></html>
